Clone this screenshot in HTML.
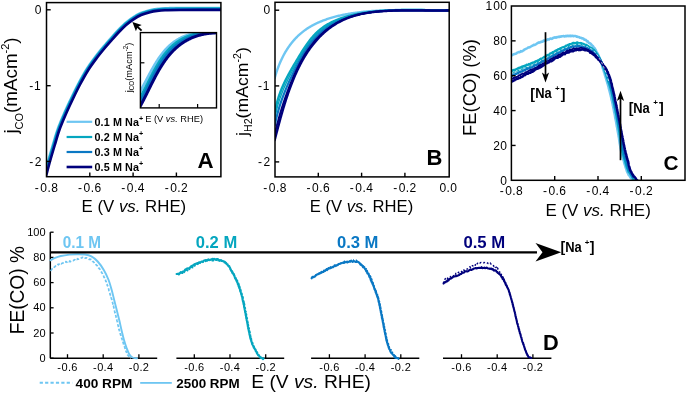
<!DOCTYPE html>
<html><head><meta charset="utf-8"><style>
html,body{margin:0;padding:0;background:#fff;width:687px;height:393px;overflow:hidden}
svg{display:block;font-family:"Liberation Sans",sans-serif;will-change:transform}
</style></head><body>
<svg width="687" height="393" viewBox="0 0 687 393">
<rect width="687" height="393" fill="#fff"/>
<clipPath id="cA"><rect x="46.5" y="2.6" width="174.4" height="174.1"/></clipPath>
<g clip-path="url(#cA)">
<path d="M44.27,174.98 L44.50,174.12 L44.79,173.03 L45.14,171.74 L45.53,170.28 L45.95,168.71 L46.39,167.06 L46.85,165.37 L47.31,163.68 L47.76,162.02 L48.20,160.45 L48.61,158.96 L49.03,157.49 L49.45,156.02 L49.88,154.57 L50.30,153.11 L50.73,151.66 L51.16,150.22 L51.59,148.77 L52.02,147.32 L52.45,145.88 L52.88,144.43 L53.31,142.98 L53.73,141.54 L54.16,140.09 L54.58,138.63 L55.00,137.18 L55.44,135.71 L55.89,134.25 L56.35,132.78 L56.84,131.30 L57.34,129.82 L57.86,128.38 L58.39,126.95 L58.94,125.53 L59.50,124.10 L60.07,122.68 L60.65,121.27 L61.24,119.85 L61.84,118.44 L62.45,117.02 L63.06,115.61 L63.67,114.20 L64.26,112.83 L64.87,111.46 L65.49,110.09 L66.11,108.72 L66.74,107.35 L67.37,105.98 L68.01,104.61 L68.65,103.24 L69.30,101.87 L69.94,100.51 L70.59,99.14 L71.24,97.78 L71.90,96.41 L72.55,95.04 L73.21,93.68 L73.87,92.31 L74.54,90.94 L75.22,89.56 L75.90,88.19 L76.60,86.82 L77.31,85.44 L78.03,84.06 L78.75,82.72 L79.47,81.37 L80.21,80.00 L80.97,78.62 L81.73,77.25 L82.49,75.88 L83.27,74.52 L84.04,73.18 L84.81,71.87 L85.58,70.59 L86.35,69.34 L87.21,67.99 L88.12,66.61 L89.03,65.26 L89.95,63.94 L90.86,62.66 L91.76,61.42 L92.65,60.21 L93.52,59.04 L94.37,57.90 L95.20,56.80 L96.21,55.46 L97.18,54.21 L98.12,53.02 L99.04,51.87 L99.96,50.74 L100.88,49.63 L101.82,48.49 L102.80,47.32 L103.81,46.12 L104.85,44.91 L105.90,43.70 L106.95,42.49 L107.99,41.31 L109.00,40.16 L109.98,39.04 L111.01,37.87 L112.02,36.70 L113.01,35.57 L113.99,34.46 L114.97,33.36 L115.99,32.25 L117.05,31.12 L118.10,30.03 L119.18,28.91 L120.28,27.78 L121.41,26.66 L122.53,25.57 L123.66,24.51 L124.78,23.50 L126.05,22.40 L127.32,21.36 L128.58,20.36 L129.84,19.42 L131.11,18.51 L132.39,17.64 L133.73,16.76 L135.07,15.91 L136.44,15.10 L137.84,14.34 L139.30,13.62 L140.81,12.95 L142.35,12.36 L143.94,11.83 L145.54,11.34 L147.10,10.90 L148.58,10.50 L150.08,10.12 L151.69,9.75 L153.20,9.45 L154.68,9.21 L156.20,8.99 L157.65,8.80 L158.96,8.63 L160.31,8.49 L161.81,8.37 L163.56,8.26 L165.29,8.19 L166.37,8.14 L167.41,8.11 L168.47,8.08 L169.59,8.05 L170.84,8.03 L172.27,8.01 L173.94,7.99 L175.90,7.97 L178.22,7.96 L180.34,7.95 L181.46,7.94 L182.70,7.94 L184.04,7.93 L185.47,7.93 L186.98,7.93 L188.56,7.92 L190.21,7.92 L191.91,7.92 L193.65,7.92 L195.42,7.91 L197.21,7.91 L199.02,7.91 L200.83,7.91 L202.64,7.91 L204.43,7.91 L206.19,7.91 L207.91,7.91 L209.59,7.91 L211.21,7.90 L212.77,7.90 L214.25,7.90 L215.65,7.90 L216.95,7.90 L218.14,7.90 L219.22,7.90 L220.18,7.90 L221.00,7.90 L221.00,7.90" fill="none" stroke="#6ec6f2" stroke-width="2.40" stroke-linejoin="round" stroke-linecap="round"/>
<path d="M44.85,175.14 L45.08,174.28 L45.37,173.18 L45.72,171.89 L46.11,170.44 L46.53,168.87 L46.97,167.22 L47.43,165.53 L47.89,163.83 L48.34,162.18 L48.78,160.61 L49.19,159.13 L49.61,157.66 L50.03,156.19 L50.45,154.73 L50.88,153.28 L51.30,151.83 L51.73,150.39 L52.16,148.94 L52.59,147.49 L53.02,146.05 L53.46,144.60 L53.89,143.15 L54.31,141.71 L54.73,140.26 L55.15,138.80 L55.58,137.35 L56.01,135.89 L56.46,134.42 L56.92,132.96 L57.40,131.49 L57.91,130.02 L58.42,128.58 L58.95,127.16 L59.50,125.74 L60.05,124.33 L60.63,122.91 L61.21,121.49 L61.80,120.08 L62.40,118.67 L63.00,117.26 L63.61,115.85 L64.22,114.44 L64.81,113.07 L65.42,111.70 L66.03,110.33 L66.66,108.96 L67.28,107.60 L67.91,106.23 L68.55,104.86 L69.19,103.49 L69.84,102.13 L70.49,100.76 L71.14,99.40 L71.79,98.03 L72.44,96.67 L73.09,95.30 L73.75,93.94 L74.41,92.57 L75.08,91.20 L75.75,89.83 L76.44,88.46 L77.13,87.09 L77.84,85.72 L78.56,84.35 L79.27,83.01 L80.00,81.65 L80.74,80.28 L81.49,78.91 L82.25,77.54 L83.02,76.17 L83.79,74.82 L84.56,73.49 L85.33,72.18 L86.10,70.90 L86.86,69.66 L87.71,68.32 L88.62,66.94 L89.53,65.60 L90.44,64.29 L91.35,63.01 L92.25,61.78 L93.13,60.57 L94.00,59.40 L94.85,58.26 L95.68,57.16 L96.69,55.83 L97.65,54.58 L98.59,53.39 L99.51,52.24 L100.42,51.12 L101.34,50.01 L102.28,48.88 L103.26,47.71 L104.27,46.51 L105.30,45.30 L106.35,44.09 L107.40,42.89 L108.44,41.70 L109.45,40.55 L110.43,39.44 L111.46,38.27 L112.48,37.10 L113.46,35.97 L114.44,34.86 L115.42,33.76 L116.43,32.66 L117.48,31.54 L118.53,30.44 L119.61,29.33 L120.71,28.21 L121.83,27.09 L122.95,26.00 L124.07,24.95 L125.17,23.95 L126.44,22.86 L127.70,21.82 L128.95,20.84 L130.20,19.90 L131.46,19.00 L132.72,18.14 L134.05,17.26 L135.38,16.42 L136.73,15.63 L138.12,14.87 L139.55,14.16 L141.03,13.51 L142.56,12.93 L144.13,12.40 L145.71,11.92 L147.26,11.48 L148.73,11.08 L150.22,10.70 L151.82,10.33 L153.31,10.04 L154.77,9.80 L156.28,9.58 L157.73,9.39 L159.03,9.23 L160.37,9.09 L161.85,8.97 L163.59,8.86 L165.32,8.79 L166.40,8.74 L167.43,8.71 L168.48,8.68 L169.60,8.65 L170.85,8.63 L172.27,8.61 L173.94,8.59 L175.90,8.57 L178.22,8.56 L180.34,8.55 L181.47,8.54 L182.70,8.54 L184.04,8.53 L185.47,8.53 L186.98,8.53 L188.57,8.52 L190.21,8.52 L191.91,8.52 L193.65,8.52 L195.42,8.51 L197.21,8.51 L199.02,8.51 L200.83,8.51 L202.64,8.51 L204.43,8.51 L206.19,8.51 L207.91,8.51 L209.59,8.51 L211.21,8.50 L212.77,8.50 L214.25,8.50 L215.65,8.50 L216.95,8.50 L218.14,8.50 L219.22,8.50 L220.18,8.50 L221.00,8.50 L221.00,8.50" fill="none" stroke="#05a6bf" stroke-width="2.40" stroke-linejoin="round" stroke-linecap="round"/>
<path d="M45.52,175.32 L45.76,174.46 L46.05,173.37 L46.39,172.07 L46.78,170.62 L47.20,169.05 L47.65,167.40 L48.10,165.71 L48.56,164.02 L49.01,162.37 L49.45,160.80 L49.87,159.32 L50.28,157.85 L50.70,156.39 L51.13,154.93 L51.55,153.48 L51.97,152.03 L52.40,150.58 L52.83,149.14 L53.26,147.70 L53.69,146.25 L54.13,144.80 L54.56,143.35 L54.98,141.90 L55.40,140.45 L55.83,139.00 L56.25,137.54 L56.68,136.09 L57.13,134.63 L57.59,133.17 L58.07,131.71 L58.57,130.25 L59.08,128.82 L59.61,127.41 L60.15,126.00 L60.70,124.58 L61.27,123.17 L61.85,121.76 L62.44,120.35 L63.04,118.94 L63.64,117.54 L64.25,116.13 L64.86,114.72 L65.45,113.35 L66.06,111.99 L66.67,110.62 L67.29,109.26 L67.92,107.89 L68.55,106.52 L69.19,105.16 L69.83,103.79 L70.47,102.43 L71.12,101.06 L71.77,99.70 L72.42,98.34 L73.07,96.97 L73.72,95.61 L74.38,94.24 L75.04,92.88 L75.71,91.51 L76.38,90.14 L77.06,88.78 L77.76,87.41 L78.46,86.04 L79.18,84.67 L79.89,83.34 L80.62,81.98 L81.36,80.62 L82.11,79.25 L82.86,77.88 L83.63,76.52 L84.39,75.17 L85.16,73.84 L85.93,72.54 L86.70,71.26 L87.46,70.03 L88.30,68.70 L89.20,67.33 L90.10,65.99 L91.01,64.69 L91.91,63.42 L92.81,62.19 L93.70,60.99 L94.57,59.82 L95.41,58.68 L96.24,57.58 L97.24,56.25 L98.20,55.01 L99.14,53.83 L100.05,52.69 L100.96,51.57 L101.88,50.45 L102.82,49.32 L103.79,48.16 L104.80,46.96 L105.83,45.76 L106.88,44.55 L107.93,43.35 L108.96,42.17 L109.98,41.01 L110.96,39.90 L111.98,38.73 L113.00,37.56 L113.99,36.43 L114.96,35.33 L115.94,34.23 L116.94,33.13 L117.99,32.02 L119.04,30.93 L120.11,29.82 L121.21,28.70 L122.32,27.59 L123.43,26.51 L124.54,25.46 L125.64,24.47 L126.89,23.39 L128.13,22.37 L129.37,21.40 L130.61,20.47 L131.86,19.57 L133.11,18.72 L134.43,17.85 L135.75,17.02 L137.08,16.23 L138.44,15.49 L139.85,14.79 L141.30,14.16 L142.79,13.59 L144.34,13.07 L145.91,12.59 L147.44,12.15 L148.91,11.76 L150.39,11.38 L151.96,11.02 L153.43,10.73 L154.88,10.49 L156.38,10.28 L157.81,10.09 L159.11,9.93 L160.43,9.79 L161.90,9.67 L163.62,9.56 L165.35,9.49 L166.42,9.44 L167.45,9.41 L168.50,9.38 L169.62,9.35 L170.86,9.33 L172.28,9.31 L173.95,9.29 L175.91,9.27 L178.23,9.26 L180.34,9.25 L181.47,9.24 L182.71,9.24 L184.04,9.23 L185.47,9.23 L186.98,9.23 L188.57,9.22 L190.21,9.22 L191.91,9.22 L193.65,9.22 L195.42,9.21 L197.22,9.21 L199.02,9.21 L200.83,9.21 L202.64,9.21 L204.43,9.21 L206.19,9.21 L207.91,9.21 L209.59,9.21 L211.21,9.20 L212.77,9.20 L214.25,9.20 L215.65,9.20 L216.95,9.20 L218.14,9.20 L219.22,9.20 L220.18,9.20 L221.00,9.20 L221.00,9.20" fill="none" stroke="#0a78c4" stroke-width="2.40" stroke-linejoin="round" stroke-linecap="round"/>
<path d="M46.20,175.50 C46.90,172.92 48.97,165.08 50.40,160.00 C51.83,154.92 53.30,150.00 54.80,145.00 C56.30,140.00 57.62,135.00 59.40,130.00 C61.18,125.00 63.33,120.00 65.50,115.00 C67.67,110.00 70.02,105.00 72.40,100.00 C74.78,95.00 77.15,90.00 79.80,85.00 C82.45,80.00 85.47,74.50 88.30,70.00 C91.13,65.50 94.18,61.50 96.80,58.00 C99.42,54.50 101.50,52.00 104.00,49.00 C106.50,46.00 109.38,42.75 111.80,40.00 C114.22,37.25 116.12,35.00 118.50,32.50 C120.88,30.00 123.60,27.20 126.10,25.00 C128.60,22.80 131.00,20.97 133.50,19.30 C136.00,17.63 138.35,16.18 141.10,15.00 C143.85,13.82 147.35,12.88 150.00,12.20 C152.65,11.52 154.50,11.23 157.00,10.90 C159.50,10.57 161.17,10.36 165.00,10.20 C168.83,10.04 170.67,10.00 180.00,9.95 C189.33,9.90 214.17,9.91 221.00,9.90" fill="none" stroke="#00007c" stroke-width="2.60" stroke-linejoin="round" stroke-linecap="round"/>
</g>
<rect x="46.5" y="2.6" width="174.4" height="174.1" fill="none" stroke="#000" stroke-width="1.5"/>
<line x1="46.50" y1="9.80" x2="50.70" y2="9.80" stroke="#000" stroke-width="1.40"/>
<line x1="46.50" y1="85.70" x2="50.70" y2="85.70" stroke="#000" stroke-width="1.40"/>
<line x1="46.50" y1="161.40" x2="50.70" y2="161.40" stroke="#000" stroke-width="1.40"/>
<line x1="89.80" y1="176.70" x2="89.80" y2="172.50" stroke="#000" stroke-width="1.40"/>
<line x1="133.10" y1="176.70" x2="133.10" y2="172.50" stroke="#000" stroke-width="1.40"/>
<line x1="176.40" y1="176.70" x2="176.40" y2="172.50" stroke="#000" stroke-width="1.40"/>
<text x="34.73" y="14.0" font-size="12.0" fill="#000">0</text>
<text x="29.23 33.93" y="89.9" font-size="12.0" fill="#000">-1</text>
<text x="29.23 34.73" y="165.6" font-size="12.0" fill="#000">-2</text>
<text x="34.76 40.25 47.38 51.16" y="191.6" font-size="12.0" fill="#000">-0.8</text>
<text x="78.06 83.55 90.68 94.46" y="191.6" font-size="12.0" fill="#000">-0.6</text>
<text x="121.27 126.77 133.89 137.67" y="191.6" font-size="12.0" fill="#000">-0.4</text>
<text x="164.70 170.19 177.32 181.10" y="191.6" font-size="12.0" fill="#000">-0.2</text>
<text x="81.6" y="211.9" font-size="15.8" text-anchor="start" fill="#000" textLength="104.6" lengthAdjust="spacingAndGlyphs">E (V <tspan font-style="italic">vs.</tspan> RHE)</text>
<text transform="translate(16.8,133.6) rotate(-90)" font-size="18" fill="#000" textLength="96.2" lengthAdjust="spacingAndGlyphs">j<tspan font-size="10.5" dy="6.6">CO</tspan><tspan dy="-6.6">(mAcm</tspan><tspan font-size="10.5" dy="-8.2">-2</tspan><tspan dy="8.2">)</tspan></text>
<line x1="66.60" y1="121.80" x2="92.20" y2="121.80" stroke="#6ec6f2" stroke-width="2.20"/>
<text x="94.5" y="125.7" font-size="10.8" font-weight="bold" fill="#000" letter-spacing="0.1">0.1 M Na<tspan font-size="7.2" dy="-4.8">+</tspan></text>
<line x1="66.60" y1="137.00" x2="92.20" y2="137.00" stroke="#05a6bf" stroke-width="2.20"/>
<text x="94.5" y="140.9" font-size="10.8" font-weight="bold" fill="#000" letter-spacing="0.1">0.2 M Na<tspan font-size="7.2" dy="-4.8">+</tspan></text>
<line x1="66.60" y1="152.00" x2="92.20" y2="152.00" stroke="#0a78c4" stroke-width="2.20"/>
<text x="94.5" y="155.9" font-size="10.8" font-weight="bold" fill="#000" letter-spacing="0.1">0.3 M Na<tspan font-size="7.2" dy="-4.8">+</tspan></text>
<line x1="66.60" y1="167.00" x2="92.20" y2="167.00" stroke="#00007c" stroke-width="2.60"/>
<text x="94.5" y="170.9" font-size="10.8" font-weight="bold" fill="#000" letter-spacing="0.1">0.5 M Na<tspan font-size="7.2" dy="-4.8">+</tspan></text>
<text x="197.5" y="167.6" font-size="22.3" text-anchor="start" font-weight="bold" fill="#000">A</text>
<clipPath id="cI"><rect x="140.4" y="32.6" width="76.1" height="75.3"/></clipPath>
<g clip-path="url(#cI)">
<path d="M138.84,93.84 L139.16,93.29 L139.49,92.74 L139.81,92.19 L140.13,91.64 L140.45,91.09 L140.77,90.53 L141.09,89.98 L141.40,89.42 L141.71,88.86 L142.03,88.30 L142.34,87.73 L142.65,87.17 L142.95,86.61 L143.26,86.04 L143.57,85.47 L143.87,84.91 L144.18,84.34 L144.48,83.77 L144.79,83.20 L145.09,82.63 L145.39,82.06 L145.69,81.49 L145.99,80.92 L146.30,80.34 L146.60,79.77 L146.90,79.20 L147.20,78.63 L147.50,78.06 L147.80,77.49 L148.10,76.91 L148.40,76.34 L148.71,75.77 L149.01,75.20 L149.31,74.63 L149.61,74.06 L149.92,73.49 L150.22,72.92 L150.53,72.36 L150.84,71.79 L151.14,71.23 L151.45,70.66 L151.76,70.10 L152.07,69.54 L152.39,68.97 L152.70,68.42 L153.01,67.86 L153.33,67.30 L153.65,66.75 L153.97,66.19 L154.29,65.64 L154.61,65.09 L154.94,64.54 L155.26,64.00 L155.59,63.45 L155.92,62.91 L156.26,62.37 L156.59,61.83 L156.93,61.30 L157.27,60.77 L157.61,60.24 L157.96,59.71 L158.31,59.18 L158.66,58.66 L159.01,58.14 L159.37,57.63 L159.73,57.11 L160.09,56.60 L160.45,56.09 L160.82,55.59 L161.20,55.09 L161.57,54.59 L161.95,54.10 L162.33,53.61 L162.72,53.12 L163.11,52.63 L163.50,52.15 L163.90,51.68 L164.30,51.21 L164.70,50.74 L165.11,50.27 L165.52,49.81 L165.94,49.36 L166.36,48.90 L166.79,48.46 L167.22,48.01 L167.65,47.58 L168.09,47.14 L168.53,46.71 L168.98,46.29 L169.43,45.87 L169.89,45.45 L170.35,45.04 L170.82,44.64 L171.29,44.24 L171.77,43.84 L172.25,43.45 L172.74,43.07 L173.24,42.69 L173.74,42.31 L174.24,41.95 L174.75,41.58 L175.27,41.23 L175.79,40.88 L176.32,40.53 L176.85,40.19 L177.39,39.86 L177.94,39.53 L178.49,39.21 L179.05,38.90 L179.61,38.59 L180.18,38.28 L180.76,37.99 L181.34,37.70 L181.93,37.42 L182.53,37.14 L183.14,36.87 L183.75,36.61 L184.36,36.36 L184.99,36.11 L185.62,35.87 L186.26,35.63 L186.91,35.40 L187.56,35.19 L188.22,34.97 L188.89,34.77 L189.56,34.57 L190.25,34.38 L190.94,34.20 L191.64,34.03 L192.34,33.86 L193.06,33.70 L193.78,33.55 L194.51,33.41 L195.25,33.27 L196.00,33.15 L196.75,33.03 L197.52,32.92 L198.29,32.82 L199.07,32.73 L199.86,32.64 L200.66,32.57 L201.46,32.50 L202.28,32.44 L203.10,32.40 L203.93,32.36 L204.78,32.33 L205.63,32.30 L206.49,32.29 L207.36,32.29 L208.24,32.29 L209.13,32.31 L210.03,32.34 L210.93,32.37 L211.85,32.42 L212.78,32.47 L213.71,32.53 L214.66,32.61 L215.62,32.69 L216.59,32.79" fill="none" stroke="#6ec6f2" stroke-width="3.00" stroke-linejoin="round" stroke-linecap="round"/>
<path d="M138.76,100.26 L139.10,99.69 L139.44,99.11 L139.78,98.53 L140.11,97.95 L140.44,97.37 L140.77,96.79 L141.10,96.20 L141.42,95.61 L141.74,95.02 L142.07,94.43 L142.39,93.83 L142.71,93.24 L143.02,92.64 L143.34,92.05 L143.65,91.45 L143.97,90.85 L144.28,90.25 L144.59,89.64 L144.90,89.04 L145.21,88.44 L145.52,87.83 L145.83,87.23 L146.14,86.62 L146.45,86.01 L146.75,85.41 L147.06,84.80 L147.37,84.19 L147.67,83.58 L147.98,82.98 L148.28,82.37 L148.59,81.76 L148.90,81.15 L149.20,80.55 L149.51,79.94 L149.82,79.33 L150.12,78.72 L150.43,78.12 L150.74,77.51 L151.05,76.91 L151.36,76.30 L151.67,75.70 L151.98,75.10 L152.29,74.50 L152.61,73.90 L152.92,73.30 L153.24,72.70 L153.55,72.10 L153.87,71.51 L154.19,70.91 L154.51,70.32 L154.84,69.73 L155.16,69.14 L155.49,68.56 L155.82,67.97 L156.15,67.39 L156.48,66.81 L156.82,66.23 L157.15,65.65 L157.49,65.08 L157.83,64.50 L158.18,63.93 L158.52,63.36 L158.87,62.80 L159.22,62.24 L159.58,61.68 L159.93,61.12 L160.29,60.57 L160.66,60.02 L161.02,59.47 L161.39,58.92 L161.76,58.38 L162.14,57.84 L162.52,57.31 L162.90,56.78 L163.29,56.25 L163.68,55.72 L164.07,55.20 L164.47,54.69 L164.87,54.17 L165.27,53.66 L165.68,53.16 L166.09,52.66 L166.51,52.16 L166.93,51.67 L167.35,51.18 L167.78,50.69 L168.22,50.21 L168.66,49.74 L169.10,49.27 L169.55,48.80 L170.00,48.34 L170.46,47.89 L170.92,47.43 L171.39,46.99 L171.86,46.55 L172.34,46.11 L172.82,45.68 L173.31,45.26 L173.81,44.84 L174.30,44.42 L174.81,44.01 L175.32,43.61 L175.84,43.21 L176.36,42.82 L176.89,42.43 L177.42,42.05 L177.96,41.68 L178.51,41.31 L179.06,40.95 L179.62,40.60 L180.18,40.25 L180.75,39.90 L181.33,39.57 L181.92,39.24 L182.51,38.92 L183.11,38.60 L183.71,38.29 L184.32,37.99 L184.94,37.70 L185.57,37.41 L186.20,37.13 L186.84,36.85 L187.49,36.59 L188.14,36.33 L188.81,36.08 L189.48,35.83 L190.15,35.60 L190.84,35.37 L191.53,35.15 L192.23,34.93 L192.94,34.73 L193.66,34.53 L194.38,34.34 L195.12,34.16 L195.86,33.99 L196.61,33.83 L197.37,33.67 L198.13,33.52 L198.91,33.39 L199.69,33.26 L200.49,33.13 L201.29,33.02 L202.10,32.92 L202.92,32.82 L203.75,32.74 L204.58,32.66 L205.43,32.60 L206.29,32.54 L207.15,32.49 L208.03,32.45 L208.91,32.42 L209.80,32.40 L210.71,32.39 L211.62,32.39 L212.55,32.40 L213.48,32.42 L214.42,32.45 L215.38,32.49 L216.34,32.54" fill="none" stroke="#05a6bf" stroke-width="3.00" stroke-linejoin="round" stroke-linecap="round"/>
<path d="M138.93,104.43 L139.26,103.83 L139.60,103.22 L139.93,102.61 L140.26,102.00 L140.59,101.39 L140.92,100.78 L141.24,100.17 L141.56,99.55 L141.89,98.94 L142.21,98.32 L142.53,97.70 L142.85,97.08 L143.17,96.46 L143.48,95.84 L143.80,95.21 L144.11,94.59 L144.43,93.97 L144.74,93.34 L145.06,92.71 L145.37,92.09 L145.68,91.46 L145.99,90.83 L146.30,90.21 L146.61,89.58 L146.92,88.95 L147.23,88.32 L147.55,87.69 L147.86,87.06 L148.17,86.44 L148.48,85.81 L148.79,85.18 L149.10,84.55 L149.41,83.93 L149.72,83.30 L150.04,82.67 L150.35,82.05 L150.66,81.42 L150.98,80.80 L151.29,80.17 L151.61,79.55 L151.93,78.93 L152.25,78.31 L152.57,77.69 L152.89,77.07 L153.21,76.45 L153.53,75.84 L153.86,75.22 L154.18,74.61 L154.51,74.00 L154.84,73.39 L155.17,72.78 L155.50,72.18 L155.84,71.57 L156.17,70.97 L156.51,70.37 L156.85,69.77 L157.20,69.17 L157.54,68.58 L157.89,67.99 L158.24,67.40 L158.59,66.81 L158.94,66.22 L159.30,65.64 L159.66,65.06 L160.02,64.49 L160.39,63.91 L160.75,63.34 L161.12,62.77 L161.50,62.21 L161.87,61.64 L162.25,61.08 L162.64,60.53 L163.02,59.98 L163.41,59.43 L163.80,58.88 L164.20,58.34 L164.60,57.80 L165.00,57.26 L165.41,56.73 L165.82,56.20 L166.24,55.68 L166.66,55.16 L167.08,54.64 L167.51,54.13 L167.94,53.62 L168.37,53.12 L168.81,52.62 L169.25,52.12 L169.70,51.63 L170.16,51.15 L170.61,50.66 L171.07,50.19 L171.54,49.71 L172.01,49.25 L172.49,48.78 L172.97,48.33 L173.46,47.87 L173.95,47.43 L174.44,46.98 L174.95,46.55 L175.45,46.11 L175.96,45.69 L176.48,45.27 L177.01,44.85 L177.53,44.44 L178.07,44.04 L178.61,43.64 L179.15,43.24 L179.71,42.86 L180.26,42.47 L180.83,42.10 L181.40,41.73 L181.97,41.37 L182.56,41.01 L183.14,40.66 L183.74,40.32 L184.34,39.98 L184.95,39.65 L185.56,39.32 L186.18,39.00 L186.81,38.69 L187.45,38.39 L188.09,38.09 L188.74,37.80 L189.39,37.52 L190.05,37.24 L190.72,36.97 L191.40,36.71 L192.09,36.46 L192.78,36.21 L193.48,35.97 L194.18,35.74 L194.90,35.51 L195.62,35.29 L196.35,35.08 L197.09,34.88 L197.83,34.69 L198.58,34.50 L199.35,34.33 L200.12,34.16 L200.89,34.00 L201.68,33.84 L202.47,33.70 L203.28,33.56 L204.09,33.43 L204.91,33.31 L205.73,33.20 L206.57,33.10 L207.42,33.01 L208.27,32.92 L209.14,32.85 L210.01,32.78 L210.89,32.72 L211.78,32.67 L212.68,32.64 L213.59,32.61 L214.51,32.58 L215.43,32.57 L216.37,32.57" fill="none" stroke="#0a78c4" stroke-width="3.00" stroke-linejoin="round" stroke-linecap="round"/>
<path d="M138.96,108.46 L139.31,107.85 L139.66,107.23 L140.01,106.62 L140.35,106.00 L140.69,105.38 L141.03,104.75 L141.37,104.13 L141.70,103.50 L142.04,102.87 L142.37,102.24 L142.70,101.61 L143.03,100.98 L143.36,100.35 L143.69,99.71 L144.02,99.08 L144.34,98.44 L144.67,97.80 L144.99,97.16 L145.32,96.52 L145.64,95.88 L145.96,95.24 L146.28,94.60 L146.60,93.96 L146.92,93.31 L147.24,92.67 L147.56,92.03 L147.88,91.38 L148.20,90.74 L148.52,90.09 L148.84,89.45 L149.15,88.80 L149.47,88.16 L149.79,87.52 L150.11,86.87 L150.43,86.23 L150.75,85.59 L151.07,84.94 L151.39,84.30 L151.71,83.66 L152.04,83.02 L152.36,82.38 L152.68,81.74 L153.01,81.10 L153.33,80.47 L153.66,79.83 L153.99,79.20 L154.32,78.56 L154.65,77.93 L154.98,77.30 L155.31,76.67 L155.65,76.04 L155.99,75.41 L156.32,74.79 L156.66,74.17 L157.00,73.55 L157.35,72.93 L157.69,72.31 L158.04,71.69 L158.39,71.08 L158.74,70.47 L159.10,69.86 L159.45,69.25 L159.81,68.65 L160.17,68.05 L160.53,67.45 L160.90,66.85 L161.27,66.26 L161.64,65.66 L162.01,65.08 L162.39,64.49 L162.77,63.91 L163.16,63.33 L163.54,62.75 L163.93,62.18 L164.32,61.61 L164.72,61.04 L165.12,60.48 L165.52,59.92 L165.93,59.36 L166.34,58.81 L166.75,58.26 L167.17,57.71 L167.59,57.17 L168.02,56.63 L168.45,56.10 L168.88,55.57 L169.32,55.04 L169.76,54.52 L170.20,54.01 L170.65,53.49 L171.11,52.99 L171.57,52.48 L172.03,51.98 L172.50,51.49 L172.97,51.00 L173.45,50.51 L173.93,50.03 L174.42,49.56 L174.91,49.09 L175.41,48.62 L175.91,48.16 L176.42,47.71 L176.94,47.26 L177.46,46.81 L177.98,46.38 L178.51,45.94 L179.04,45.52 L179.59,45.09 L180.13,44.68 L180.69,44.27 L181.24,43.86 L181.81,43.46 L182.38,43.07 L182.95,42.69 L183.54,42.30 L184.13,41.93 L184.72,41.56 L185.32,41.20 L185.93,40.85 L186.55,40.50 L187.17,40.16 L187.80,39.82 L188.43,39.49 L189.07,39.17 L189.72,38.86 L190.38,38.55 L191.04,38.25 L191.71,37.96 L192.38,37.67 L193.07,37.39 L193.76,37.12 L194.46,36.86 L195.17,36.60 L195.88,36.35 L196.60,36.11 L197.33,35.88 L198.07,35.65 L198.81,35.43 L199.56,35.22 L200.33,35.02 L201.09,34.83 L201.87,34.64 L202.66,34.46 L203.45,34.29 L204.25,34.13 L205.06,33.98 L205.88,33.84 L206.71,33.70 L207.54,33.57 L208.39,33.46 L209.24,33.35 L210.11,33.25 L210.98,33.15 L211.86,33.07 L212.75,33.00 L213.65,32.93 L214.55,32.88 L215.47,32.83 L216.40,32.80" fill="none" stroke="#00007c" stroke-width="3.00" stroke-linejoin="round" stroke-linecap="round"/>
</g>
<rect x="140.4" y="32.6" width="76.1" height="75.3" fill="none" stroke="#000" stroke-width="1.4"/>
<line x1="140.40" y1="62.80" x2="144.40" y2="62.80" stroke="#000" stroke-width="1.20"/>
<line x1="159.20" y1="107.90" x2="159.20" y2="103.90" stroke="#000" stroke-width="1.20"/>
<line x1="197.60" y1="107.90" x2="197.60" y2="103.90" stroke="#000" stroke-width="1.20"/>
<text x="145.2" y="121.8" font-size="8.5" text-anchor="start" fill="#000" textLength="57.8" lengthAdjust="spacingAndGlyphs">E (V <tspan font-style="italic">vs.</tspan> RHE)</text>
<text transform="translate(131.8,92.3) rotate(-90)" font-size="9.3" fill="#000">j<tspan font-size="6.3" dy="1.8">CO</tspan><tspan dy="-1.8">(mAcm</tspan><tspan font-size="6.3" dy="-4">-2</tspan><tspan dy="4">)</tspan></text>
<path d="M132.4,22.0 L141.7,25.0 L137.6,26.9 L135.9,31.3 Z" fill="#000"/>
<line x1="136.80" y1="26.20" x2="141.60" y2="30.60" stroke="#000" stroke-width="1.90"/>
<clipPath id="cB"><rect x="275.0" y="2.3" width="174.2" height="174.6"/></clipPath>
<g clip-path="url(#cB)">
<path d="M274.67,78.17 L274.91,77.30 L275.16,76.44 L275.41,75.58 L275.67,74.73 L275.94,73.88 L276.20,73.04 L276.48,72.20 L276.75,71.37 L277.03,70.54 L277.32,69.72 L277.61,68.90 L277.91,68.08 L278.21,67.27 L278.52,66.47 L278.83,65.67 L279.14,64.88 L279.46,64.09 L279.79,63.30 L280.12,62.52 L280.46,61.75 L280.80,60.98 L281.15,60.22 L281.50,59.46 L281.86,58.71 L282.22,57.96 L282.59,57.22 L282.96,56.48 L283.34,55.75 L283.73,55.02 L284.12,54.30 L284.51,53.59 L284.91,52.88 L285.32,52.17 L285.73,51.48 L286.15,50.78 L286.57,50.10 L287.00,49.42 L287.44,48.74 L287.88,48.07 L288.33,47.41 L288.78,46.75 L289.24,46.10 L289.70,45.45 L290.17,44.81 L290.65,44.18 L291.13,43.55 L291.62,42.93 L292.12,42.31 L292.62,41.70 L293.13,41.10 L293.64,40.50 L294.16,39.91 L294.68,39.33 L295.22,38.75 L295.76,38.18 L296.30,37.61 L296.85,37.05 L297.41,36.50 L297.97,35.95 L298.55,35.42 L299.12,34.88 L299.71,34.36 L300.30,33.84 L300.89,33.32 L301.50,32.82 L302.11,32.32 L302.73,31.82 L303.35,31.34 L303.98,30.86 L304.62,30.39 L305.27,29.92 L305.92,29.46 L306.58,29.01 L307.24,28.56 L307.91,28.13 L308.59,27.69 L309.28,27.27 L309.97,26.85 L310.67,26.44 L311.37,26.03 L312.09,25.64 L312.80,25.24 L313.53,24.86 L314.26,24.48 L315.00,24.10 L315.74,23.74 L316.49,23.38 L317.24,23.02 L318.01,22.67 L318.77,22.33 L319.55,21.99 L320.33,21.66 L321.11,21.34 L321.90,21.02 L322.70,20.70 L323.50,20.40 L324.31,20.09 L325.13,19.80 L325.95,19.51 L326.77,19.22 L327.60,18.94 L328.44,18.67 L329.28,18.40 L330.13,18.13 L330.98,17.88 L331.84,17.62 L332.70,17.37 L333.57,17.13 L334.44,16.89 L335.32,16.66 L336.20,16.43 L337.09,16.21 L337.98,15.99 L338.88,15.78 L339.78,15.57 L340.69,15.37 L341.60,15.17 L342.51,14.98 L343.44,14.79 L344.36,14.60 L345.29,14.42 L346.23,14.24 L347.16,14.07 L348.11,13.91 L349.05,13.74 L350.01,13.58 L350.96,13.43 L351.92,13.28 L352.89,13.13 L353.86,12.99 L354.83,12.85 L355.80,12.72 L356.78,12.59 L357.77,12.46 L358.76,12.34 L359.75,12.22 L360.74,12.10 L361.74,11.99 L362.74,11.88 L363.75,11.78 L364.76,11.68 L365.77,11.58 L366.79,11.49 L367.81,11.40 L368.83,11.31 L369.86,11.22 L370.89,11.14 L371.92,11.07 L372.96,10.99 L374.00,10.92 L375.04,10.85 L376.08,10.79 L377.13,10.72 L378.18,10.66 L379.24,10.61 L380.29,10.55 L381.35,10.50 L382.41,10.45 L383.48,10.41 L384.54,10.36 L385.61,10.32 L386.69,10.28 L387.76,10.25 L388.84,10.21 L389.92,10.18 L391.00,10.15 L392.08,10.13 L393.17,10.10 L394.26,10.08 L395.35,10.06 L396.44,10.04 L397.53,10.03 L398.63,10.01 L399.73,10.00 L400.83,9.99 L401.93,9.98 L403.03,9.97 L404.14,9.97 L405.24,9.96 L406.35,9.96 L407.46,9.96 L408.57,9.96 L409.69,9.96 L410.80,9.97 L411.91,9.97 L413.03,9.98 L414.15,9.99 L415.27,9.99 L416.39,10.00 L417.51,10.02 L418.63,10.03 L419.76,10.04 L420.88,10.06 L422.01,10.07 L423.13,10.09 L424.26,10.10 L425.39,10.12 L426.52,10.14 L427.65,10.16 L428.78,10.18 L429.91,10.20 L431.04,10.22 L432.17,10.24 L433.30,10.26 L434.43,10.28 L435.57,10.30 L436.70,10.33 L437.83,10.35 L438.97,10.37 L440.10,10.39 L441.23,10.42 L442.37,10.44 L443.50,10.46 L444.63,10.49 L445.77,10.51 L446.90,10.53 L448.03,10.55 L449.17,10.58 L450.30,10.60" fill="none" stroke="#6ec6f2" stroke-width="2.40" stroke-linejoin="round" stroke-linecap="round"/>
<path d="M274.84,113.04 L275.01,111.94 L275.20,110.86 L275.39,109.79 L275.60,108.72 L275.81,107.67 L276.04,106.62 L276.27,105.59 L276.51,104.56 L276.76,103.54 L277.02,102.53 L277.29,101.53 L277.57,100.54 L277.85,99.56 L278.15,98.58 L278.45,97.61 L278.76,96.65 L279.07,95.70 L279.40,94.75 L279.73,93.82 L280.06,92.88 L280.41,91.96 L280.76,91.04 L281.12,90.13 L281.48,89.23 L281.85,88.33 L282.23,87.43 L282.61,86.55 L283.00,85.67 L283.39,84.79 L283.79,83.92 L284.19,83.05 L284.60,82.19 L285.01,81.34 L285.43,80.48 L285.85,79.64 L286.28,78.79 L286.71,77.95 L287.14,77.12 L287.58,76.29 L288.02,75.46 L288.46,74.64 L288.91,73.81 L289.36,73.00 L289.81,72.18 L290.27,71.37 L290.73,70.56 L291.19,69.75 L291.65,68.94 L292.12,68.14 L292.58,67.33 L293.05,66.53 L293.52,65.73 L293.99,64.94 L294.46,64.14 L294.93,63.34 L295.41,62.55 L295.88,61.75 L296.35,60.96 L296.83,60.16 L297.30,59.37 L297.78,58.57 L298.25,57.78 L298.73,56.98 L299.20,56.19 L299.68,55.40 L300.16,54.61 L300.64,53.82 L301.12,53.03 L301.61,52.25 L302.09,51.47 L302.58,50.69 L303.08,49.91 L303.57,49.14 L304.07,48.37 L304.57,47.60 L305.08,46.84 L305.59,46.08 L306.11,45.33 L306.63,44.58 L307.15,43.83 L307.68,43.10 L308.22,42.36 L308.76,41.63 L309.31,40.91 L309.86,40.20 L310.42,39.49 L310.99,38.79 L311.56,38.09 L312.14,37.41 L312.73,36.73 L313.33,36.05 L313.93,35.39 L314.55,34.73 L315.17,34.09 L315.80,33.45 L316.44,32.82 L317.09,32.20 L317.75,31.59 L318.42,30.99 L319.10,30.40 L319.79,29.82 L320.49,29.25 L321.20,28.69 L321.92,28.15 L322.65,27.61 L323.39,27.08 L324.14,26.57 L324.91,26.06 L325.68,25.56 L326.46,25.08 L327.25,24.60 L328.06,24.13 L328.87,23.68 L329.69,23.23 L330.52,22.79 L331.36,22.36 L332.21,21.94 L333.07,21.53 L333.94,21.13 L334.82,20.74 L335.70,20.36 L336.60,19.99 L337.50,19.62 L338.41,19.26 L339.33,18.92 L340.26,18.58 L341.20,18.25 L342.15,17.92 L343.10,17.61 L344.06,17.30 L345.03,17.00 L346.01,16.71 L347.00,16.43 L347.99,16.15 L348.99,15.88 L350.00,15.62 L351.02,15.37 L352.04,15.12 L353.07,14.89 L354.11,14.65 L355.15,14.43 L356.20,14.21 L357.26,14.00 L358.33,13.80 L359.40,13.60 L360.48,13.41 L361.56,13.22 L362.65,13.05 L363.75,12.87 L364.85,12.71 L365.96,12.55 L367.07,12.39 L368.20,12.25 L369.32,12.10 L370.45,11.97 L371.59,11.84 L372.73,11.71 L373.88,11.59 L375.04,11.47 L376.20,11.36 L377.36,11.26 L378.53,11.16 L379.70,11.06 L380.88,10.97 L382.06,10.89 L383.25,10.81 L384.44,10.73 L385.64,10.66 L386.84,10.59 L388.05,10.53 L389.26,10.47 L390.47,10.41 L391.69,10.36 L392.91,10.31 L394.13,10.27 L395.36,10.23 L396.59,10.19 L397.83,10.16 L399.07,10.12 L400.31,10.10 L401.55,10.07 L402.80,10.05 L404.05,10.03 L405.31,10.02 L406.56,10.01 L407.82,10.00 L409.08,9.99 L410.35,9.98 L411.61,9.98 L412.88,9.98 L414.15,9.98 L415.43,9.99 L416.70,9.99 L417.98,10.00 L419.26,10.01 L420.54,10.02 L421.82,10.04 L423.10,10.05 L424.39,10.07 L425.67,10.08 L426.96,10.10 L428.25,10.12 L429.54,10.14 L430.83,10.16 L432.12,10.18 L433.41,10.21 L434.70,10.23 L435.99,10.25 L437.29,10.28 L438.58,10.30 L439.88,10.33 L441.17,10.35 L442.46,10.38 L443.76,10.40 L445.05,10.43 L446.34,10.45 L447.64,10.48 L448.93,10.50 L450.22,10.52" fill="none" stroke="#05a6bf" stroke-width="2.40" stroke-linejoin="round" stroke-linecap="round"/>
<path d="M274.80,118.50 L275.28,115.91 L275.81,113.33 L276.40,110.76 L277.03,108.20 L277.72,105.66 L278.46,103.13 L279.25,100.62 L280.09,98.12 L280.98,95.64 L281.91,93.18 L282.88,90.74 L283.90,88.31 L284.95,85.90 L286.04,83.51 L287.17,81.14 L288.32,78.78 L289.50,76.43 L290.70,74.09 L291.93,71.77 L293.17,69.45 L294.43,67.14 L295.69,64.84 L296.97,62.54 L298.25,60.25 L299.55,57.96 L300.87,55.68 L302.22,53.42 L303.60,51.18 L305.02,48.96 L306.48,46.78 L307.99,44.62 L309.55,42.51 L311.18,40.44 L312.87,38.42 L314.63,36.47 L316.46,34.59 L318.37,32.78 L320.34,31.06 L322.39,29.42 L324.51,27.87 L326.68,26.40 L328.91,25.02 L331.18,23.72 L333.50,22.50 L335.85,21.36 L338.24,20.29 L340.67,19.30 L343.12,18.37 L345.60,17.51 L348.10,16.72 L350.62,15.98 L353.16,15.31 L355.71,14.69 L358.28,14.12 L360.86,13.61 L363.45,13.14 L366.05,12.72 L368.65,12.35 L371.26,12.01 L373.88,11.71 L376.50,11.44 L379.12,11.20 L381.75,10.99 L384.38,10.81 L387.01,10.66 L389.64,10.52 L392.27,10.41 L394.90,10.31 L397.54,10.24 L400.17,10.18 L402.80,10.13 L405.44,10.10 L408.07,10.08 L410.71,10.07 L413.34,10.07 L415.97,10.08 L418.61,10.10 L421.24,10.12 L423.88,10.15 L426.51,10.19 L429.15,10.22 L431.78,10.26 L434.41,10.30 L437.05,10.34 L439.68,10.38 L442.32,10.42 L444.95,10.46 L447.59,10.49 L450.22,10.52" fill="none" stroke="#05a6bf" stroke-width="1.40" stroke-linejoin="round" stroke-linecap="round"/>
<path d="M274.74,125.32 L275.30,122.68 L275.88,120.06 L276.51,117.44 L277.17,114.82 L277.87,112.22 L278.61,109.63 L279.38,107.05 L280.19,104.48 L281.04,101.93 L281.92,99.39 L282.84,96.86 L283.79,94.35 L284.77,91.84 L285.78,89.36 L286.82,86.88 L287.88,84.42 L288.98,81.97 L290.09,79.53 L291.23,77.10 L292.39,74.68 L293.57,72.27 L294.77,69.86 L295.98,67.47 L297.21,65.07 L298.46,62.69 L299.74,60.33 L301.04,57.98 L302.39,55.65 L303.77,53.34 L305.20,51.06 L306.68,48.81 L308.21,46.60 L309.80,44.44 L311.45,42.31 L313.16,40.25 L314.95,38.24 L316.80,36.30 L318.72,34.44 L320.71,32.64 L322.76,30.93 L324.87,29.29 L327.04,27.73 L329.26,26.25 L331.53,24.84 L333.85,23.52 L336.21,22.27 L338.61,21.09 L341.04,19.99 L343.51,18.96 L346.02,18.01 L348.55,17.12 L351.10,16.31 L353.68,15.56 L356.28,14.88 L358.90,14.27 L361.53,13.71 L364.17,13.21 L366.83,12.77 L369.49,12.37 L372.16,12.02 L374.83,11.71 L377.51,11.44 L380.20,11.21 L382.88,11.00 L385.57,10.82 L388.26,10.67 L390.95,10.55 L393.64,10.45 L396.34,10.36 L399.03,10.30 L401.72,10.25 L404.42,10.21 L407.11,10.19 L409.81,10.18 L412.50,10.19 L415.19,10.19 L417.89,10.21 L420.58,10.23 L423.28,10.26 L425.97,10.29 L428.66,10.33 L431.36,10.36 L434.05,10.39 L436.75,10.43 L439.44,10.46 L442.13,10.48 L444.83,10.50 L447.52,10.51 L450.22,10.52" fill="none" stroke="#0a78c4" stroke-width="2.20" stroke-linejoin="round" stroke-linecap="round"/>
<path d="M274.67,134.32 L275.32,131.63 L275.98,128.94 L276.66,126.25 L277.35,123.56 L278.07,120.88 L278.80,118.21 L279.55,115.54 L280.33,112.88 L281.12,110.23 L281.94,107.58 L282.78,104.94 L283.64,102.31 L284.52,99.69 L285.43,97.07 L286.36,94.47 L287.31,91.87 L288.29,89.28 L289.29,86.70 L290.32,84.14 L291.37,81.58 L292.44,79.03 L293.55,76.49 L294.67,73.96 L295.83,71.45 L297.01,68.95 L298.24,66.46 L299.49,63.99 L300.79,61.54 L302.13,59.12 L303.51,56.72 L304.95,54.35 L306.43,52.01 L307.97,49.71 L309.57,47.45 L311.23,45.23 L312.95,43.07 L314.73,40.95 L316.57,38.90 L318.48,36.90 L320.45,34.97 L322.48,33.10 L324.57,31.31 L326.73,29.58 L328.93,27.93 L331.20,26.36 L333.52,24.87 L335.88,23.45 L338.30,22.12 L340.76,20.88 L343.27,19.71 L345.81,18.63 L348.39,17.63 L351.00,16.72 L353.64,15.89 L356.31,15.14 L358.99,14.46 L361.70,13.86 L364.42,13.33 L367.15,12.86 L369.89,12.44 L372.64,12.08 L375.39,11.76 L378.15,11.48 L380.91,11.25 L383.68,11.05 L386.45,10.88 L389.21,10.73 L391.99,10.62 L394.76,10.53 L397.53,10.45 L400.30,10.40 L403.07,10.36 L405.85,10.34 L408.62,10.33 L411.39,10.33 L414.17,10.34 L416.94,10.36 L419.71,10.38 L422.48,10.41 L425.26,10.44 L428.03,10.46 L430.80,10.49 L433.57,10.52 L436.35,10.54 L439.12,10.55 L441.89,10.56 L444.67,10.55 L447.44,10.54 L450.21,10.51" fill="none" stroke="#00007c" stroke-width="1.90" stroke-linejoin="round" stroke-linecap="round"/>
<path d="M274.63,140.33 L274.91,139.22 L275.20,138.11 L275.49,137.00 L275.77,135.90 L276.06,134.79 L276.35,133.68 L276.64,132.57 L276.93,131.47 L277.22,130.36 L277.51,129.26 L277.80,128.16 L278.09,127.06 L278.38,125.95 L278.68,124.85 L278.97,123.76 L279.27,122.66 L279.57,121.56 L279.87,120.47 L280.17,119.37 L280.47,118.28 L280.77,117.19 L281.08,116.10 L281.39,115.01 L281.70,113.93 L282.01,112.84 L282.32,111.76 L282.63,110.68 L282.95,109.60 L283.27,108.53 L283.59,107.45 L283.91,106.38 L284.24,105.31 L284.56,104.24 L284.89,103.18 L285.23,102.12 L285.56,101.06 L285.90,100.00 L286.24,98.95 L286.58,97.89 L286.93,96.85 L287.28,95.80 L287.63,94.76 L287.98,93.72 L288.34,92.68 L288.70,91.65 L289.06,90.62 L289.43,89.59 L289.80,88.56 L290.18,87.54 L290.55,86.53 L290.93,85.51 L291.32,84.50 L291.71,83.50 L292.10,82.50 L292.50,81.50 L292.90,80.50 L293.30,79.51 L293.71,78.52 L294.12,77.54 L294.53,76.56 L294.96,75.59 L295.38,74.62 L295.81,73.65 L296.24,72.69 L296.68,71.74 L297.12,70.78 L297.57,69.84 L298.02,68.89 L298.48,67.96 L298.94,67.02 L299.41,66.09 L299.88,65.17 L300.35,64.25 L300.83,63.34 L301.32,62.43 L301.81,61.53 L302.31,60.63 L302.81,59.74 L303.32,58.85 L303.83,57.97 L304.35,57.10 L304.88,56.23 L305.41,55.36 L305.94,54.50 L306.49,53.65 L307.03,52.81 L307.59,51.96 L308.15,51.13 L308.71,50.30 L309.29,49.48 L309.86,48.66 L310.45,47.85 L311.04,47.05 L311.64,46.25 L312.24,45.46 L312.85,44.68 L313.47,43.90 L314.09,43.13 L314.73,42.37 L315.36,41.61 L316.01,40.86 L316.66,40.12 L317.32,39.38 L317.98,38.65 L318.66,37.93 L319.34,37.22 L320.03,36.51 L320.72,35.81 L321.42,35.12 L322.14,34.44 L322.85,33.76 L323.58,33.10 L324.32,32.44 L325.06,31.78 L325.81,31.14 L326.57,30.51 L327.34,29.88 L328.12,29.26 L328.90,28.66 L329.70,28.06 L330.50,27.47 L331.32,26.89 L332.14,26.31 L332.97,25.75 L333.81,25.20 L334.66,24.65 L335.52,24.12 L336.39,23.59 L337.27,23.08 L338.16,22.57 L339.06,22.08 L339.97,21.59 L340.89,21.12 L341.82,20.66 L342.76,20.20 L343.71,19.76 L344.68,19.33 L345.65,18.91 L346.63,18.50 L347.63,18.10 L348.64,17.71 L349.65,17.33 L350.68,16.96 L351.72,16.61 L352.77,16.27 L353.84,15.94 L354.91,15.62 L356.00,15.31 L357.10,15.01 L358.21,14.73 L359.33,14.46 L360.46,14.20 L361.61,13.95 L362.76,13.71 L363.93,13.48 L365.11,13.26 L366.30,13.06 L367.49,12.86 L368.70,12.67 L369.92,12.49 L371.14,12.32 L372.38,12.16 L373.62,12.01 L374.87,11.87 L376.13,11.74 L377.40,11.61 L378.68,11.49 L379.96,11.38 L381.25,11.28 L382.55,11.18 L383.86,11.10 L385.17,11.01 L386.49,10.94 L387.82,10.87 L389.15,10.81 L390.49,10.75 L391.83,10.70 L393.18,10.65 L394.53,10.61 L395.89,10.57 L397.25,10.54 L398.62,10.52 L399.99,10.49 L401.37,10.47 L402.75,10.46 L404.13,10.45 L405.51,10.44 L406.90,10.43 L408.29,10.43 L409.69,10.43 L411.09,10.43 L412.49,10.44 L413.89,10.44 L415.29,10.45 L416.69,10.46 L418.10,10.47 L419.50,10.48 L420.91,10.50 L422.32,10.51 L423.72,10.52 L425.13,10.53 L426.54,10.55 L427.95,10.56 L429.35,10.57 L430.76,10.58 L432.16,10.59 L433.56,10.60 L434.97,10.61 L436.37,10.61 L437.76,10.61 L439.16,10.61 L440.55,10.61 L441.94,10.61 L443.33,10.60 L444.71,10.59 L446.09,10.57 L447.47,10.56 L448.84,10.53 L450.21,10.51" fill="none" stroke="#00007c" stroke-width="2.40" stroke-linejoin="round" stroke-linecap="round"/>
</g>
<rect x="275.0" y="2.3" width="174.2" height="174.6" fill="none" stroke="#000" stroke-width="1.5"/>
<line x1="275.00" y1="10.20" x2="279.20" y2="10.20" stroke="#000" stroke-width="1.40"/>
<line x1="275.00" y1="85.90" x2="279.20" y2="85.90" stroke="#000" stroke-width="1.40"/>
<line x1="275.00" y1="161.90" x2="279.20" y2="161.90" stroke="#000" stroke-width="1.40"/>
<line x1="318.30" y1="176.90" x2="318.30" y2="172.70" stroke="#000" stroke-width="1.40"/>
<line x1="361.60" y1="176.90" x2="361.60" y2="172.70" stroke="#000" stroke-width="1.40"/>
<line x1="404.90" y1="176.90" x2="404.90" y2="172.70" stroke="#000" stroke-width="1.40"/>
<text x="263.43" y="14.4" font-size="12.0" fill="#000">0</text>
<text x="257.93 262.63" y="90.1" font-size="12.0" fill="#000">-1</text>
<text x="257.93 263.43" y="166.1" font-size="12.0" fill="#000">-2</text>
<text x="263.26 268.75 275.88 279.66" y="191.6" font-size="12.0" fill="#000">-0.8</text>
<text x="306.56 312.05 319.18 322.96" y="191.6" font-size="12.0" fill="#000">-0.6</text>
<text x="349.77 355.27 362.39 366.17" y="191.6" font-size="12.0" fill="#000">-0.4</text>
<text x="393.20 398.69 405.82 409.60" y="191.6" font-size="12.0" fill="#000">-0.2</text>
<text x="439.41 446.53 450.32" y="191.6" font-size="12.0" fill="#000">0.0</text>
<text x="309.8" y="211.6" font-size="15.8" text-anchor="start" fill="#000" textLength="103.4" lengthAdjust="spacingAndGlyphs">E (V <tspan font-style="italic">vs.</tspan> RHE)</text>
<text transform="translate(248.2,136.0) rotate(-90)" font-size="16.5" fill="#000" textLength="88.8" lengthAdjust="spacingAndGlyphs">j<tspan font-size="10" dy="3.6">H2</tspan><tspan dy="-3.6">(mAcm</tspan><tspan font-size="10" dy="-7.6">-2</tspan><tspan dy="7.6">)</tspan></text>
<text x="426.6" y="164.6" font-size="22.0" text-anchor="start" font-weight="bold" fill="#000">B</text>
<clipPath id="cC"><rect x="511.4" y="6.0" width="173.6" height="174.3"/></clipPath>
<g clip-path="url(#cC)">
<path d="M511.00,55.36 L511.37,55.30 L511.81,55.42 L512.31,54.85 L512.86,54.67 L513.46,54.50 L514.11,53.92 L514.80,53.92 L515.51,53.73 L516.25,53.57 L517.01,52.70 L517.78,52.56 L518.56,52.08 L519.33,52.33 L520.10,51.92 L520.86,51.08 L521.60,51.51 L522.32,51.18 L523.00,50.62 L523.63,50.30 L524.27,49.62 L524.91,49.20 L525.55,49.28 L526.19,48.58 L526.83,48.35 L527.48,48.05 L528.12,47.54 L528.76,47.54 L529.40,47.18 L530.04,47.16 L530.67,46.57 L531.31,46.33 L531.93,45.89 L532.56,45.70 L533.18,45.23 L533.79,44.79 L534.40,45.07 L535.00,44.80 L535.70,44.36 L536.39,43.95 L537.07,43.35 L537.73,43.00 L538.39,42.77 L539.04,42.33 L539.69,42.63 L540.34,42.09 L540.98,42.20 L541.63,41.59 L542.29,41.81 L542.95,41.49 L543.62,40.58 L544.30,40.52 L544.99,40.86 L545.70,40.28 L546.34,40.48 L546.99,39.81 L547.65,39.35 L548.32,39.59 L549.00,39.51 L549.68,38.91 L550.37,38.57 L551.06,38.57 L551.75,38.89 L552.44,38.54 L553.14,37.85 L553.83,37.78 L554.52,37.50 L555.21,37.31 L555.89,37.74 L556.57,37.10 L557.24,37.27 L557.90,37.06 L558.64,36.72 L559.39,37.02 L560.13,36.42 L560.88,36.72 L561.63,36.19 L562.37,36.34 L563.11,36.08 L563.84,36.05 L564.57,36.53 L565.29,36.34 L566.01,35.88 L566.71,36.30 L567.40,35.72 L568.08,35.84 L568.75,36.19 L569.40,36.01 L570.18,35.58 L570.95,36.32 L571.71,35.73 L572.45,35.82 L573.17,36.29 L573.89,36.01 L574.58,36.08 L575.27,36.00 L575.94,36.13 L576.60,36.64 L577.25,36.50 L577.88,36.93 L578.50,36.90 L579.28,37.17 L580.04,37.80 L580.77,37.67 L581.48,38.01 L582.16,38.52 L582.83,38.28 L583.49,38.57 L584.13,39.51 L584.77,39.79 L585.40,39.70 L586.03,40.04 L586.65,40.90 L587.25,41.51 L587.85,41.38 L588.44,42.46 L589.01,42.89 L589.56,43.16 L590.09,43.50 L590.61,43.72 L591.10,44.13 L591.67,45.41 L592.19,45.32 L592.67,46.16 L593.12,46.28 L593.57,47.25 L594.03,47.64 L594.50,48.06 L595.00,48.74 L595.30,49.67 L595.62,49.68 L595.94,50.36 L596.26,51.20 L596.59,52.04 L596.92,52.48 L597.25,52.86 L597.58,54.03 L597.91,54.14 L598.24,54.69 L598.56,55.61 L598.88,56.47 L599.20,56.90 L599.50,57.74 L599.73,58.49 L599.96,59.27 L600.19,59.55 L600.42,60.39 L600.65,61.48 L600.87,62.24 L601.10,62.67 L601.32,63.39 L601.54,64.01 L601.75,64.35 L601.97,64.97 L602.18,65.65 L602.39,67.06 L602.60,67.57 L602.80,68.45 L603.01,68.36 L603.20,69.49 L603.40,69.99 L603.65,70.96 L603.89,71.39 L604.12,72.67 L604.35,72.66 L604.58,73.76 L604.80,74.62 L605.02,75.45 L605.23,76.01 L605.45,76.67 L605.66,77.44 L605.87,78.23 L606.08,78.47 L606.29,79.44 L606.50,80.32 L606.71,81.00 L606.91,81.32 L607.11,82.29 L607.30,83.00 L607.49,83.42 L607.68,84.12 L607.88,84.59 L608.07,85.43 L608.26,86.15 L608.46,86.44 L608.66,87.64 L608.87,88.70 L609.08,89.44 L609.30,90.18 L609.45,90.49 L609.59,91.36 L609.75,91.86 L609.90,92.38 L610.06,93.34 L610.22,93.40 L610.38,94.60 L610.55,94.71 L610.71,95.86 L610.88,96.46 L611.04,96.97 L611.21,98.06 L611.38,98.61 L611.54,99.43 L611.71,100.39 L611.87,100.58 L612.03,101.10 L612.19,102.05 L612.35,103.06 L612.50,103.38 L612.65,104.05 L612.80,105.32 L612.95,105.84 L613.10,106.38 L613.25,107.46 L613.39,107.72 L613.54,108.70 L613.68,109.04 L613.82,109.94 L613.96,110.96 L614.10,111.76 L614.23,112.45 L614.37,112.76 L614.50,113.64 L614.64,114.14 L614.77,114.71 L614.90,115.71 L615.04,116.70 L615.17,117.42 L615.30,118.03 L615.43,118.93 L615.57,119.11 L615.70,119.74 L615.83,120.67 L615.97,121.25 L616.10,121.91 L616.23,122.79 L616.36,123.67 L616.49,124.28 L616.62,124.85 L616.75,125.99 L616.88,126.81 L617.01,127.10 L617.14,127.52 L617.27,128.20 L617.40,129.58 L617.52,129.63 L617.65,130.88 L617.78,131.49 L617.90,131.99 L618.03,133.09 L618.15,133.19 L618.28,133.99 L618.40,134.96 L618.52,135.34 L618.65,136.71 L618.77,136.98 L618.89,137.64 L619.01,138.32 L619.13,139.53 L619.24,140.14 L619.36,141.04 L619.48,141.81 L619.60,142.69 L619.71,143.55 L619.83,144.07 L619.95,144.41 L620.07,145.35 L620.18,145.82 L620.30,146.38 L620.42,147.43 L620.54,148.29 L620.66,148.51 L620.78,149.21 L620.90,149.88 L621.08,151.03 L621.26,151.71 L621.44,152.57 L621.62,153.43 L621.80,153.86 L621.98,154.87 L622.16,155.64 L622.35,155.65 L622.53,156.98 L622.72,157.47 L622.91,157.65 L623.10,158.58 L623.30,159.40 L623.50,160.33 L623.71,160.63 L623.92,161.52 L624.13,162.52 L624.36,163.21 L624.58,164.09 L624.80,164.47 L625.03,165.37 L625.26,165.76 L625.49,166.90 L625.71,167.69 L625.94,168.24 L626.16,168.96 L626.38,169.18 L626.60,170.32 L626.92,171.23 L627.24,172.00 L627.54,172.36 L627.84,173.23 L628.15,173.48 L628.46,174.55 L628.79,175.10 L629.13,175.28 L629.50,175.67 L629.92,176.58 L630.39,177.31 L630.90,178.14 L631.42,178.56 L631.94,178.80 L632.42,179.99 L632.86,179.90 L633.23,180.91 L633.50,180.74" fill="none" stroke="#6ec6f2" stroke-width="2.50" stroke-linejoin="round" stroke-linecap="round"/>
<path d="M511.00,71.28 L511.37,71.28 L511.81,71.11 L512.31,70.49 L512.86,70.16 L513.46,70.21 L514.11,69.86 L514.80,70.02 L515.51,69.63 L516.25,69.26 L517.01,68.92 L517.78,68.70 L518.56,67.97 L519.33,67.90 L520.10,67.37 L520.86,67.66 L521.60,66.69 L522.32,67.02 L523.00,66.16 L523.67,66.39 L524.34,65.86 L525.02,65.67 L525.69,65.78 L526.37,64.88 L527.05,64.67 L527.73,65.12 L528.40,64.55 L529.08,63.98 L529.76,64.46 L530.43,64.18 L531.10,63.27 L531.76,63.27 L532.42,62.78 L533.08,62.67 L533.72,62.65 L534.37,62.01 L535.00,62.16 L535.66,61.34 L536.31,61.13 L536.95,61.33 L537.58,60.68 L538.20,60.37 L538.81,60.19 L539.42,59.76 L540.03,59.35 L540.64,58.73 L541.25,58.94 L541.87,58.79 L542.48,58.45 L543.11,57.85 L543.74,57.25 L544.38,56.91 L545.03,56.81 L545.70,56.44 L546.31,55.67 L546.92,55.43 L547.55,55.20 L548.18,54.97 L548.82,54.86 L549.47,54.26 L550.11,53.53 L550.77,53.81 L551.42,53.14 L552.08,52.86 L552.74,52.26 L553.39,52.08 L554.05,51.69 L554.70,51.66 L555.35,50.78 L556.00,50.80 L556.64,50.18 L557.27,50.27 L557.90,49.43 L558.56,49.30 L559.23,49.02 L559.91,48.93 L560.59,48.13 L561.28,48.13 L561.96,47.61 L562.64,47.35 L563.32,47.19 L563.99,47.27 L564.65,46.58 L565.30,46.67 L565.94,45.76 L566.57,46.09 L567.17,45.39 L567.76,45.00 L568.33,45.22 L568.88,45.13 L569.40,44.21 L570.27,44.09 L571.06,44.21 L571.78,43.62 L572.45,43.33 L573.09,42.97 L573.70,42.85 L574.30,43.20 L574.91,43.40 L575.54,43.34 L576.20,42.90 L576.96,42.50 L577.73,42.75 L578.49,43.17 L579.26,43.29 L580.03,43.25 L580.80,43.07 L581.56,43.49 L582.33,43.65 L583.10,44.00 L583.80,43.95 L584.51,44.77 L585.23,45.04 L585.95,44.79 L586.67,45.25 L587.38,46.08 L588.07,45.98 L588.74,46.90 L589.39,46.94 L590.00,47.46 L590.64,47.86 L591.24,47.85 L591.81,48.28 L592.35,48.64 L592.88,49.38 L593.40,49.83 L593.93,49.86 L594.45,51.00 L595.00,51.24 L595.39,51.56 L595.77,52.20 L596.16,53.14 L596.55,53.34 L596.95,53.94 L597.34,54.75 L597.73,55.38 L598.11,55.84 L598.50,56.20 L598.88,56.99 L599.26,57.92 L599.63,58.52 L600.00,59.06 L600.30,59.48 L600.59,60.12 L600.89,61.06 L601.19,61.59 L601.48,61.84 L601.78,63.10 L602.07,63.96 L602.36,64.59 L602.64,65.40 L602.92,66.13 L603.20,66.55 L603.47,67.47 L603.74,67.86 L604.00,68.33 L604.25,69.22 L604.50,69.85 L604.76,71.04 L605.00,71.53 L605.24,72.10 L605.47,72.84 L605.69,73.11 L605.91,74.10 L606.13,74.89 L606.34,75.31 L606.54,75.84 L606.75,76.63 L606.96,77.22 L607.17,78.16 L607.37,78.39 L607.59,79.01 L607.80,79.85 L608.03,80.86 L608.26,81.59 L608.49,82.18 L608.72,83.06 L608.95,83.26 L609.17,83.65 L609.40,84.68 L609.63,85.32 L609.85,85.80 L610.08,86.91 L610.31,87.40 L610.54,88.10 L610.77,88.99 L611.00,90.36 L611.16,90.21 L611.31,91.12 L611.47,91.70 L611.63,92.31 L611.79,93.17 L611.95,93.70 L612.11,94.96 L612.27,95.35 L612.43,96.24 L612.59,96.55 L612.75,97.53 L612.91,98.39 L613.07,99.34 L613.23,99.61 L613.38,100.54 L613.54,101.60 L613.69,102.33 L613.85,102.60 L614.00,103.58 L614.15,104.49 L614.30,104.92 L614.45,105.85 L614.59,106.56 L614.74,107.52 L614.88,107.90 L615.02,108.72 L615.17,109.17 L615.31,110.19 L615.45,110.57 L615.59,111.43 L615.72,112.03 L615.86,112.70 L616.00,113.28 L616.14,114.07 L616.27,115.04 L616.40,115.52 L616.54,116.07 L616.67,117.39 L616.80,117.69 L616.94,118.92 L617.07,119.36 L617.20,119.91 L617.33,121.01 L617.46,121.75 L617.59,122.00 L617.72,122.56 L617.85,123.68 L617.97,124.56 L618.10,125.09 L618.23,125.94 L618.35,126.36 L618.48,127.24 L618.60,127.67 L618.72,128.50 L618.84,129.19 L618.97,129.91 L619.09,130.63 L619.21,131.67 L619.33,131.88 L619.45,132.62 L619.57,133.38 L619.68,134.66 L619.80,135.02 L619.92,135.36 L620.03,136.72 L620.14,137.49 L620.25,138.19 L620.36,138.57 L620.47,139.62 L620.57,140.03 L620.68,140.65 L620.79,141.98 L620.89,142.71 L621.00,142.95 L621.10,144.23 L621.21,144.27 L621.31,145.22 L621.42,145.69 L621.53,146.51 L621.64,147.19 L621.75,148.29 L621.87,148.60 L621.98,149.15 L622.10,149.75 L622.28,150.72 L622.46,151.98 L622.64,152.56 L622.83,152.90 L623.01,154.09 L623.20,154.66 L623.39,155.27 L623.59,156.00 L623.78,156.75 L623.98,157.53 L624.18,157.95 L624.38,158.72 L624.59,159.27 L624.80,160.11 L625.01,160.63 L625.23,161.40 L625.45,162.23 L625.67,163.15 L625.89,163.56 L626.12,164.84 L626.35,165.24 L626.58,166.28 L626.81,166.88 L627.05,167.80 L627.29,168.27 L627.52,168.72 L627.76,169.33 L628.00,170.09 L628.38,171.05 L628.76,171.89 L629.14,172.04 L629.53,172.65 L629.93,173.31 L630.32,173.89 L630.72,174.46 L631.11,175.01 L631.50,175.80 L631.96,176.40 L632.46,177.59 L632.97,178.26 L633.47,179.25 L633.94,179.90 L634.37,180.32 L634.73,180.98 L635.00,180.62" fill="none" stroke="#05a6bf" stroke-width="2.40" stroke-linejoin="round" stroke-linecap="round"/>
<path d="M511.00,73.46 L511.61,73.54 L512.49,73.17 L513.37,72.93 L514.16,72.06 L514.95,71.76 L515.74,71.36 L516.53,71.09 L517.32,71.16 L518.11,70.35 L518.90,70.33 L519.69,69.75 L520.48,69.48 L521.28,69.26 L522.07,69.25 L522.86,68.74 L523.66,67.95 L524.45,67.84 L525.25,67.42 L526.05,67.69 L526.85,67.34 L527.65,67.03 L528.46,66.74 L529.26,66.37 L530.06,66.22 L530.85,65.78 L531.65,65.03 L532.44,65.18 L533.23,64.56 L534.02,64.43 L534.80,63.92 L535.58,63.44 L536.35,63.01 L537.11,62.68 L537.87,62.19 L538.63,61.62 L539.38,61.77 L540.13,61.34 L540.88,61.07 L541.63,60.41 L542.38,59.88 L543.13,59.61 L543.88,58.70 L544.63,58.72 L545.38,58.13 L546.14,57.50 L546.89,57.11 L547.64,56.96 L548.40,56.33 L549.15,56.08 L549.90,55.79 L550.66,55.21 L551.41,54.58 L552.16,54.46 L552.92,53.85 L553.67,53.44 L554.43,53.00 L555.19,52.74 L555.95,52.11 L556.71,52.18 L557.48,52.03 L558.25,51.19 L559.02,51.08 L559.79,50.87 L560.56,49.78 L561.33,49.49 L562.11,49.65 L562.89,49.31 L563.66,48.79 L564.44,48.04 L565.22,47.89 L566.01,47.91 L566.80,47.58 L567.59,47.18 L568.38,46.38 L569.18,46.59 L569.99,45.90 L570.80,45.89 L571.61,45.16 L572.44,45.59 L573.27,45.08 L574.11,45.00 L574.95,44.46 L575.81,44.69 L576.66,44.61 L577.51,44.60 L578.37,44.43 L579.22,44.78 L580.07,44.55 L580.91,44.64 L581.74,44.68 L582.57,45.27 L583.40,45.03 L584.21,45.36 L585.01,45.51 L585.81,46.29 L586.59,46.56 L587.36,46.92 L588.12,46.91 L588.87,47.64 L589.62,47.99 L590.35,48.23 L591.07,48.62 L591.78,49.90 L592.48,49.71 L593.15,50.39 L593.78,50.94 L594.39,51.80 L594.98,52.01 L595.54,52.97 L596.09,53.55 L596.62,54.60 L597.13,54.62 L597.63,55.58 L598.11,56.41 L598.58,57.50 L599.04,57.87 L599.48,58.56 L599.92,59.46 L600.34,59.90 L600.75,60.44 L601.14,61.57 L601.53,62.66 L601.91,63.28 L602.28,63.67 L602.65,64.78 L603.01,65.68 L603.36,65.99 L603.71,67.03 L604.05,67.63 L604.42,68.42 L604.78,69.33 L605.04,69.88" fill="none" stroke="#05a6bf" stroke-width="1.30" stroke-linejoin="round" stroke-linecap="round"/>
<path d="M511.00,75.80 L511.38,76.11 L511.85,75.86 L512.41,75.84 L513.04,75.02 L513.72,74.70 L514.44,74.76 L515.18,74.37 L515.93,73.76 L516.66,73.73 L517.37,73.19 L518.04,73.20 L518.68,72.39 L519.32,72.19 L519.96,72.45 L520.61,71.73 L521.25,71.38 L521.89,71.53 L522.53,71.11 L523.17,70.45 L523.82,70.49 L524.46,70.30 L525.10,69.63 L525.75,69.74 L526.39,69.05 L527.04,68.96 L527.69,68.49 L528.34,68.32 L528.99,68.68 L529.64,67.95 L530.28,68.15 L530.93,67.44 L531.57,67.29 L532.20,67.21 L532.84,66.77 L533.47,66.01 L534.10,66.09 L534.73,65.82 L535.36,65.14 L535.99,64.76 L536.61,65.06 L537.24,64.45 L537.86,63.88 L538.48,63.76 L539.10,63.24 L539.72,63.38 L540.33,62.80 L540.95,62.14 L541.56,62.37 L542.17,61.45 L542.78,61.25 L543.39,60.70 L544.00,60.93 L544.61,60.08 L545.22,60.06 L545.83,59.38 L546.44,59.34 L547.06,59.17 L547.67,58.71 L548.28,58.30 L548.90,57.99 L549.51,57.61 L550.12,57.40 L550.74,56.66 L551.35,56.63 L551.97,56.10 L552.59,56.27 L553.21,56.00 L553.83,54.97 L554.44,54.71 L555.06,54.83 L555.69,54.39 L556.31,53.63 L556.93,53.85 L557.55,53.72 L558.18,52.99 L558.80,52.61 L559.43,52.48 L560.06,52.46 L560.69,51.61 L561.31,51.32 L561.94,50.92 L562.57,50.96 L563.21,50.53 L563.84,50.06 L564.48,49.87 L565.11,49.30 L565.76,49.24 L566.40,49.51 L567.12,48.90 L567.84,48.37 L568.56,48.60 L569.28,47.86 L570.01,47.50 L570.74,47.07 L571.47,46.92 L572.21,46.75 L572.95,46.59 L573.69,46.95 L574.44,46.33 L575.20,46.20 L575.97,46.40 L576.73,46.58 L577.50,46.03 L578.27,46.38 L579.04,46.06 L579.80,46.24 L580.56,46.33 L581.30,46.69 L582.05,46.65 L582.79,46.59 L583.54,47.03 L584.28,46.84 L585.01,47.08 L585.74,47.78 L586.46,47.72 L587.16,48.19 L587.86,48.13 L588.54,48.94 L589.20,49.06 L589.86,49.15 L590.51,50.11 L591.15,50.17 L591.78,50.53 L592.39,50.94 L593.00,51.30 L593.59,51.88 L594.16,52.79 L594.71,52.88 L595.25,53.51 L595.77,54.22 L596.27,54.88 L596.76,55.34 L597.24,56.27 L597.70,56.46 L598.16,57.17 L598.60,57.85 L599.04,58.24 L599.48,58.95 L599.91,59.52 L600.33,60.62 L600.74,60.80 L601.14,61.87 L601.53,62.17 L601.92,63.17 L602.30,63.84 L602.67,64.27 L603.03,65.41 L603.39,65.86 L603.75,66.46 L604.09,66.74 L604.44,67.71 L604.77,68.29 L605.10,69.15 L605.42,70.22 L605.73,70.86 L606.04,70.93 L606.33,72.13 L606.62,73.05 L606.87,73.39 L607.11,73.69 L607.35,74.96 L607.58,75.27 L607.80,76.38 L608.01,76.97 L608.22,77.60 L608.43,78.35 L608.64,78.33 L608.85,79.58 L609.06,79.86 L609.26,80.39 L609.47,81.26 L609.67,82.10 L609.88,82.30 L610.08,83.33 L610.28,84.27 L610.47,84.71 L610.66,85.41 L610.85,85.90 L611.04,87.11 L611.22,87.21 L611.40,88.24 L611.57,88.89 L611.75,89.05 L611.91,90.53 L612.08,90.60 L612.24,91.88 L612.40,92.52 L612.56,93.18 L612.72,93.83 L612.88,94.14 L613.03,94.87 L613.18,95.47 L613.34,96.63 L613.48,96.59 L613.63,97.36 L613.78,98.70 L613.92,99.27 L614.06,99.87 L614.20,100.77 L614.35,101.10 L614.49,102.04 L614.63,102.41 L614.77,103.46 L614.91,103.48 L615.06,104.47 L615.20,105.26 L615.34,106.13 L615.48,106.51 L615.62,107.41 L615.76,108.33 L615.90,108.57 L616.04,109.09 L616.17,109.64 L616.31,110.99 L616.45,111.37 L616.58,111.99 L616.72,112.78 L616.85,113.15 L616.98,113.92 L617.12,114.62 L617.25,115.32 L617.38,116.50 L617.51,116.69 L617.65,117.26 L617.78,118.57 L617.91,119.01 L618.03,119.28 L618.16,120.48 L618.29,121.18 L618.42,121.84 L618.55,122.63 L618.67,123.04 L618.80,123.57 L618.92,124.68 L619.05,125.27 L619.18,126.02 L619.30,126.30 L619.42,127.14 L619.55,128.08 L619.67,128.53 L619.79,129.39 L619.91,129.98 L620.04,130.90 L620.16,131.26 L620.28,132.07 L620.40,133.03 L620.52,133.31 L620.64,133.89 L620.76,134.95 L620.88,135.24 L620.99,136.51 L621.11,136.73 L621.23,137.93 L621.35,138.32 L621.46,138.71 L621.58,139.69 L621.70,140.51 L621.82,141.05 L621.93,141.86 L622.04,142.34 L622.16,143.50 L622.27,143.57 L622.38,144.76 L622.50,144.83 L622.62,145.91 L622.74,146.24 L622.87,146.99 L623.00,148.04 L623.15,148.98 L623.29,149.19 L623.44,149.95 L623.59,150.69 L623.75,151.48 L623.91,151.96 L624.07,152.64 L624.24,153.72 L624.41,154.16 L624.58,154.68 L624.76,155.73 L624.93,156.55 L625.11,156.78 L625.30,157.12 L625.48,158.03 L625.67,159.18 L625.87,159.27 L626.06,159.97 L626.26,161.12 L626.46,161.25 L626.65,162.51 L626.85,162.68 L627.05,163.48 L627.24,164.33 L627.42,164.62 L627.60,165.83 L627.79,166.24 L627.98,167.18 L628.18,167.85 L628.40,167.97 L628.62,169.22 L628.87,169.87 L629.14,170.05 L629.48,171.06 L629.87,171.51 L630.31,172.55 L630.76,173.49 L631.22,173.94 L631.67,174.79 L632.09,175.13 L632.47,176.30 L632.78,176.62 L633.02,177.17" fill="none" stroke="#0a78c4" stroke-width="2.30" stroke-linejoin="round" stroke-linecap="round"/>
<path d="M511.00,79.70 L511.60,78.65 L512.46,78.82 L513.32,77.95 L514.09,78.25 L514.86,77.10 L515.63,77.43 L516.40,76.90 L517.18,76.68 L517.95,76.42 L518.72,75.45 L519.49,75.16 L520.27,75.09 L521.04,74.39 L521.81,74.01 L522.58,73.62 L523.36,73.76 L524.13,73.41 L524.91,72.99 L525.68,72.18 L526.46,72.38 L527.24,71.70 L528.02,71.12 L528.79,70.95 L529.57,70.56 L530.35,69.93 L531.12,69.96 L531.89,69.43 L532.66,69.23 L533.43,69.14 L534.20,68.54 L534.96,67.96 L535.72,67.93 L536.48,67.64 L537.23,66.83 L537.98,66.78 L538.73,65.63 L539.47,65.31 L540.22,64.91 L540.96,65.10 L541.70,64.48 L542.45,64.08 L543.19,63.31 L543.94,63.06 L544.68,62.95 L545.43,61.91 L546.18,61.51 L546.93,61.04 L547.67,60.96 L548.42,60.84 L549.17,60.20 L549.92,59.66 L550.66,59.32 L551.41,58.65 L552.16,58.85 L552.91,57.96 L553.66,57.45 L554.41,57.11 L555.16,57.11 L555.92,56.31 L556.68,56.38 L557.44,55.54 L558.20,55.23 L558.96,54.56 L559.73,54.84 L560.49,54.36 L561.26,53.73 L562.02,53.06 L562.79,52.98 L563.56,52.52 L564.33,52.53 L565.11,52.24 L565.89,51.74 L566.68,51.04 L567.46,50.51 L568.26,50.88 L569.06,50.62 L569.87,49.71 L570.68,49.72 L571.50,49.45 L572.32,49.62 L573.15,48.67 L573.99,48.50 L574.82,48.96 L575.66,48.60 L576.51,48.39 L577.35,48.55 L578.19,48.32 L579.04,48.34 L579.89,47.95 L580.73,47.81 L581.58,47.76 L582.42,48.06 L583.26,48.40 L584.09,48.32 L584.92,48.48 L585.74,48.92 L586.54,49.28 L587.33,49.53 L588.10,49.66 L588.86,50.46 L589.60,50.87 L590.33,51.39 L591.05,51.86 L591.74,51.65 L592.42,52.69 L593.09,52.97 L593.73,53.56 L594.37,54.24 L594.99,54.52 L595.60,55.20 L596.19,56.41 L596.77,56.51 L597.33,57.62 L597.88,58.08 L598.42,58.44 L598.95,59.11 L599.47,60.02 L599.99,60.77 L600.49,61.17 L601.00,61.63 L601.49,62.41 L601.98,63.65 L602.47,64.24 L602.95,64.44 L603.43,65.73 L603.89,66.23 L604.35,66.76 L604.79,67.93 L605.22,68.05 L605.67,68.86 L606.11,69.90 L606.42,70.80" fill="none" stroke="#00007c" stroke-width="1.80" stroke-linejoin="round" stroke-linecap="round"/>
<path d="M511.00,81.86 L511.35,81.81 L511.76,81.54 L512.22,81.34 L512.74,81.04 L513.30,81.01 L513.90,80.31 L514.54,80.37 L515.21,79.41 L515.90,79.35 L516.61,79.03 L517.33,78.48 L518.06,78.71 L518.80,77.91 L519.54,78.02 L520.26,77.82 L520.98,76.76 L521.68,77.05 L522.35,76.63 L523.00,76.17 L523.63,75.21 L524.27,75.33 L524.91,75.18 L525.55,74.53 L526.19,74.15 L526.83,73.92 L527.48,73.55 L528.12,73.76 L528.76,73.01 L529.40,72.77 L530.04,72.67 L530.67,72.66 L531.31,71.69 L531.93,71.12 L532.56,71.74 L533.18,71.28 L533.79,70.92 L534.40,70.34 L535.00,69.73 L535.66,69.30 L536.31,69.10 L536.95,68.91 L537.58,68.17 L538.20,68.46 L538.81,68.14 L539.42,67.08 L540.03,67.56 L540.64,66.86 L541.25,66.94 L541.87,66.14 L542.48,66.11 L543.11,65.41 L543.74,65.21 L544.38,64.74 L545.03,63.89 L545.70,63.64 L546.31,63.39 L546.92,63.22 L547.55,62.84 L548.18,62.65 L548.82,62.41 L549.47,61.79 L550.11,61.34 L550.77,61.17 L551.42,61.24 L552.08,60.71 L552.74,60.21 L553.39,60.01 L554.05,59.06 L554.70,58.58 L555.35,58.22 L556.00,57.91 L556.64,57.46 L557.27,57.75 L557.90,57.72 L558.56,56.58 L559.21,56.82 L559.86,56.74 L560.50,56.24 L561.15,55.30 L561.79,55.46 L562.43,54.76 L563.06,54.37 L563.70,53.89 L564.33,54.11 L564.97,54.20 L565.60,53.10 L566.23,52.87 L566.86,52.84 L567.50,52.24 L568.13,52.42 L568.76,52.45 L569.40,51.96 L570.12,51.30 L570.86,51.07 L571.61,51.02 L572.36,51.28 L573.12,51.34 L573.88,50.73 L574.64,50.16 L575.39,50.11 L576.13,50.16 L576.86,49.72 L577.57,49.60 L578.27,49.81 L578.94,50.13 L579.59,49.45 L580.21,50.03 L580.80,49.98 L581.67,49.49 L582.46,49.27 L583.19,49.26 L583.86,49.80 L584.51,50.06 L585.13,50.23 L585.74,49.75 L586.37,50.18 L587.01,50.03 L587.70,50.60 L588.30,50.88 L588.90,51.02 L589.52,51.33 L590.13,52.63 L590.75,52.35 L591.38,52.98 L591.99,53.47 L592.61,53.88 L593.22,54.48 L593.83,54.89 L594.42,55.38 L595.00,55.48 L595.53,56.51 L596.06,57.05 L596.58,57.63 L597.10,57.75 L597.62,58.45 L598.13,59.36 L598.64,59.84 L599.14,59.74 L599.63,60.59 L600.11,61.00 L600.59,62.10 L601.05,62.35 L601.50,62.89 L601.98,63.31 L602.45,64.11 L602.91,64.95 L603.37,65.43 L603.81,65.59 L604.24,66.34 L604.67,67.14 L605.08,67.15 L605.48,68.58 L605.86,68.30 L606.24,69.51 L606.60,69.65 L606.94,71.08 L607.27,71.42 L607.58,71.56 L607.87,72.45 L608.16,73.41 L608.43,74.04 L608.70,74.50 L608.96,75.14 L609.22,75.94 L609.48,76.84 L609.74,77.20 L610.00,78.12 L610.19,78.90 L610.37,79.22 L610.55,79.56 L610.73,80.57 L610.91,80.99 L611.08,82.03 L611.25,82.75 L611.43,83.61 L611.60,83.53 L611.77,84.17 L611.94,85.81 L612.12,86.36 L612.29,87.38 L612.46,87.97 L612.64,88.88 L612.82,88.86 L613.00,89.69 L613.15,90.76 L613.30,91.57 L613.45,91.60 L613.60,93.12 L613.75,93.09 L613.91,93.77 L614.06,94.71 L614.21,95.18 L614.37,95.81 L614.52,96.53 L614.68,97.21 L614.83,98.06 L614.99,99.33 L615.14,100.17 L615.29,100.90 L615.45,101.28 L615.60,102.35 L615.75,102.45 L615.90,103.92 L616.05,104.19 L616.20,104.62 L616.35,105.60 L616.49,106.12 L616.64,107.39 L616.79,107.73 L616.93,108.09 L617.08,108.98 L617.22,109.58 L617.37,111.17 L617.51,111.34 L617.65,112.43 L617.80,112.95 L617.94,113.48 L618.08,114.52 L618.22,115.05 L618.36,115.26 L618.50,116.92 L618.64,116.99 L618.78,118.01 L618.92,118.49 L619.06,119.75 L619.20,119.67 L619.34,120.27 L619.47,120.97 L619.61,122.04 L619.74,123.21 L619.88,123.52 L620.01,124.72 L620.14,124.64 L620.27,126.18 L620.40,126.10 L620.53,127.53 L620.67,127.55 L620.80,128.65 L620.93,129.40 L621.06,130.47 L621.19,130.63 L621.32,131.77 L621.46,131.69 L621.59,133.26 L621.73,133.59 L621.86,134.32 L622.00,135.47 L622.14,135.53 L622.28,136.56 L622.42,137.27 L622.56,137.73 L622.71,138.33 L622.85,139.36 L623.00,139.97 L623.15,141.05 L623.29,141.60 L623.44,142.02 L623.59,143.37 L623.73,144.35 L623.88,144.77 L624.02,145.17 L624.17,145.88 L624.31,147.23 L624.45,147.40 L624.59,148.34 L624.73,148.34 L624.87,149.71 L625.00,150.39 L625.20,150.63 L625.39,151.50 L625.58,152.62 L625.77,153.67 L625.95,154.23 L626.14,154.16 L626.32,154.93 L626.50,156.37 L626.68,156.54 L626.86,157.74 L627.04,157.90 L627.23,158.95 L627.41,159.02 L627.60,160.46 L627.79,160.70 L627.98,160.97 L628.16,161.91 L628.35,162.56 L628.54,163.65 L628.72,164.95 L628.91,165.72 L629.10,166.42 L629.29,166.63 L629.49,167.70 L629.69,168.36 L629.89,169.11 L630.09,169.88 L630.30,170.33 L630.63,171.11 L630.96,171.44 L631.30,172.00 L631.64,172.91 L632.00,173.41 L632.36,174.47 L632.73,174.47 L633.11,175.10 L633.50,176.23 L633.93,176.17 L634.41,176.86 L634.92,177.43 L635.44,178.08 L635.95,178.77 L636.43,179.98 L636.86,180.01 L637.23,180.28 L637.50,181.00" fill="none" stroke="#00007c" stroke-width="2.50" stroke-linejoin="round" stroke-linecap="round"/>
<path d="M511.00,73.45 L511.62,73.36 L512.49,73.09 L513.37,72.31 L514.16,72.26 L514.95,71.89 L515.74,71.53 L516.53,70.87 L517.33,70.49 L518.12,70.37 L518.91,70.25 L519.70,69.63 L520.49,69.45 L521.28,69.01 L522.08,68.99 L522.87,68.73 L523.67,68.08 L524.47,68.13 L525.26,67.25 L526.07,67.39 L526.87,67.13 L527.67,66.39 L528.47,66.42 L529.27,66.03 L530.07,65.96 L530.87,65.20 L531.67,65.08 L532.46,64.96 L533.25,64.48 L534.04,63.93 L534.82,63.44 L535.60,63.59 L536.37,62.93 L537.14,62.86 L537.90,61.95 L538.65,61.95 L539.41,61.54 L540.16,61.18 L540.91,60.22 L541.66,60.01 L542.40,59.40 L543.15,59.40 L543.90,58.74 L544.65,58.69 L545.41,57.93 L546.16,57.76 L546.92,57.40 L547.67,56.62 L548.43,56.40 L549.18,56.22 L549.93,55.55 L550.68,55.04 L551.44,54.57 L552.19,54.47 L552.95,53.71 L553.70,53.55 L554.46,53.11 L555.22,52.71 L555.98,52.06 L556.74,51.98 L557.51,51.75 L558.28,51.01 L559.05,50.64 L559.82,50.61 L560.59,50.03 L561.37,49.48 L562.14,48.95 L562.92,49.03 L563.70,48.42 L564.48,48.13 L565.26,47.66 L566.04,47.53 L566.83,47.25 L567.62,46.66 L568.42,46.20 L569.22,46.44 L570.02,46.09 L570.83,45.27 L571.65,45.33 L572.47,45.16 L573.31,44.78 L574.14,44.80 L574.99,44.81 L575.84,44.50 L576.70,44.33 L577.55,44.20 L578.41,44.25 L579.26,44.25 L580.10,44.32 L580.95,44.50 L581.78,45.03 L582.61,45.03 L583.43,45.41 L584.25,45.73 L585.05,45.95 L585.84,45.81 L586.62,46.68 L587.39,46.55 L588.15,47.36 L588.90,47.81 L589.65,48.13 L590.38,48.42 L591.10,48.69 L591.81,49.18 L592.51,50.02 L593.18,50.32 L593.81,51.07 L594.42,51.51 L595.00,52.08 L595.56,52.80 L596.11,53.72 L596.63,54.26 L597.14,54.89 L597.64,55.64 L598.12,56.39 L598.59,57.08 L599.04,57.77 L599.48,58.81 L599.91,59.42 L600.33,59.86 L600.74,60.66 L601.13,61.34 L601.51,62.21 L601.89,62.77 L602.26,63.97 L602.62,64.64 L602.98,65.33 L603.33,66.39 L603.67,66.83 L604.01,67.77 L604.34,68.77 L604.67,69.34 L604.99,70.17 L605.30,70.82 L605.61,72.00 L605.91,72.65 L606.19,73.19 L606.47,74.04 L606.75,74.99 L607.01,75.76 L607.28,76.58 L607.54,77.20 L607.79,78.25 L608.05,79.15 L608.31,80.01 L608.59,80.72 L608.89,81.63 L609.09,82.30" fill="none" stroke="#fff" stroke-width="0.80" stroke-linejoin="round" stroke-linecap="butt" stroke-dasharray="2.5,2"/>
</g>
<rect x="511.4" y="6.0" width="173.6" height="174.3" fill="none" stroke="#000" stroke-width="1.5"/>
<line x1="511.40" y1="145.44" x2="515.60" y2="145.44" stroke="#000" stroke-width="1.40"/>
<line x1="511.40" y1="110.58" x2="515.60" y2="110.58" stroke="#000" stroke-width="1.40"/>
<line x1="511.40" y1="75.72" x2="515.60" y2="75.72" stroke="#000" stroke-width="1.40"/>
<line x1="511.40" y1="40.86" x2="515.60" y2="40.86" stroke="#000" stroke-width="1.40"/>
<line x1="554.70" y1="180.30" x2="554.70" y2="176.10" stroke="#000" stroke-width="1.40"/>
<line x1="598.00" y1="180.30" x2="598.00" y2="176.10" stroke="#000" stroke-width="1.40"/>
<line x1="641.30" y1="180.30" x2="641.30" y2="176.10" stroke="#000" stroke-width="1.40"/>
<text x="500.13" y="184.5" font-size="12.0" fill="#000">0</text>
<text x="493.25 500.13" y="149.6" font-size="12.0" fill="#000">20</text>
<text x="493.25 500.13" y="114.8" font-size="12.0" fill="#000">40</text>
<text x="493.25 500.13" y="79.9" font-size="12.0" fill="#000">60</text>
<text x="493.25 500.13" y="45.1" font-size="12.0" fill="#000">80</text>
<text x="485.58 493.25 500.13" y="10.2" font-size="12.0" fill="#000">100</text>
<text x="499.66 505.15 512.28 516.06" y="195.2" font-size="12.0" fill="#000">-0.8</text>
<text x="542.96 548.45 555.58 559.36" y="195.2" font-size="12.0" fill="#000">-0.6</text>
<text x="586.17 591.67 598.79 602.57" y="195.2" font-size="12.0" fill="#000">-0.4</text>
<text x="629.60 635.09 642.22 646.00" y="195.2" font-size="12.0" fill="#000">-0.2</text>
<text x="545.5" y="215.6" font-size="15.8" text-anchor="start" fill="#000" textLength="105.3" lengthAdjust="spacingAndGlyphs">E (V <tspan font-style="italic">vs.</tspan> RHE)</text>
<text transform="translate(476.0,135.9) rotate(-90)" font-size="17.5" fill="#000" textLength="96.8" lengthAdjust="spacingAndGlyphs">FE(CO) (%)</text>
<text x="663.4" y="170.0" font-size="20.8" text-anchor="start" font-weight="bold" fill="#000">C</text>
<line x1="545.50" y1="32.20" x2="545.50" y2="76.00" stroke="#000" stroke-width="1.70"/>
<path d="M545.5,82.4 L541.9,72.6 L545.5,75.0 L549.1,72.6 Z" fill="#000"/>
<text y="99.0" font-size="14.2" font-weight="bold" fill="#000"><tspan x="530.20">[</tspan><tspan x="560.80">]</tspan></text>
<text transform="translate(535.20,98.30) scale(0.930,1)" font-size="13.9" font-weight="bold" fill="#000">Na</text>
<text x="554.90" y="90.9" font-size="8.0" font-weight="bold" fill="#000">+</text>
<line x1="620.50" y1="160.20" x2="620.50" y2="97.00" stroke="#000" stroke-width="1.70"/>
<path d="M620.5,90.8 L616.9,101.0 L620.5,98.6 L624.1,101.0 Z" fill="#000"/>
<text y="113.4" font-size="14.2" font-weight="bold" fill="#000"><tspan x="628.70">[</tspan><tspan x="658.90">]</tspan></text>
<text transform="translate(633.30,112.90) scale(0.930,1)" font-size="13.9" font-weight="bold" fill="#000">Na</text>
<text x="653.20" y="105.2" font-size="8.0" font-weight="bold" fill="#000">+</text>
<line x1="50.30" y1="358.20" x2="157.20" y2="358.20" stroke="#000" stroke-width="1.50"/>
<line x1="67.50" y1="358.20" x2="67.50" y2="354.20" stroke="#000" stroke-width="1.30"/>
<text x="57.37 61.53 67.95 71.31" y="371.0" font-size="11.0" fill="#000">-0.6</text>
<line x1="103.20" y1="358.20" x2="103.20" y2="354.20" stroke="#000" stroke-width="1.30"/>
<text x="92.99 97.15 103.57 106.93" y="371.0" font-size="11.0" fill="#000">-0.4</text>
<line x1="138.90" y1="358.20" x2="138.90" y2="354.20" stroke="#000" stroke-width="1.30"/>
<text x="128.80 132.97 139.39 142.74" y="371.0" font-size="11.0" fill="#000">-0.2</text>
<line x1="176.40" y1="358.20" x2="284.20" y2="358.20" stroke="#000" stroke-width="1.50"/>
<line x1="194.30" y1="358.20" x2="194.30" y2="354.20" stroke="#000" stroke-width="1.30"/>
<text x="184.17 188.33 194.75 198.11" y="371.0" font-size="11.0" fill="#000">-0.6</text>
<line x1="230.00" y1="358.20" x2="230.00" y2="354.20" stroke="#000" stroke-width="1.30"/>
<text x="219.79 223.95 230.37 233.73" y="371.0" font-size="11.0" fill="#000">-0.4</text>
<line x1="265.70" y1="358.20" x2="265.70" y2="354.20" stroke="#000" stroke-width="1.30"/>
<text x="255.60 259.77 266.19 269.54" y="371.0" font-size="11.0" fill="#000">-0.2</text>
<line x1="311.10" y1="358.20" x2="419.30" y2="358.20" stroke="#000" stroke-width="1.50"/>
<line x1="329.40" y1="358.20" x2="329.40" y2="354.20" stroke="#000" stroke-width="1.30"/>
<text x="319.27 323.43 329.85 333.21" y="371.0" font-size="11.0" fill="#000">-0.6</text>
<line x1="365.10" y1="358.20" x2="365.10" y2="354.20" stroke="#000" stroke-width="1.30"/>
<text x="354.89 359.05 365.47 368.83" y="371.0" font-size="11.0" fill="#000">-0.4</text>
<line x1="400.80" y1="358.20" x2="400.80" y2="354.20" stroke="#000" stroke-width="1.30"/>
<text x="390.70 394.87 401.29 404.64" y="371.0" font-size="11.0" fill="#000">-0.2</text>
<line x1="443.00" y1="358.20" x2="551.40" y2="358.20" stroke="#000" stroke-width="1.50"/>
<line x1="461.50" y1="358.20" x2="461.50" y2="354.20" stroke="#000" stroke-width="1.30"/>
<text x="451.37 455.53 461.95 465.31" y="371.0" font-size="11.0" fill="#000">-0.6</text>
<line x1="497.20" y1="358.20" x2="497.20" y2="354.20" stroke="#000" stroke-width="1.30"/>
<text x="486.99 491.15 497.57 500.93" y="371.0" font-size="11.0" fill="#000">-0.4</text>
<line x1="532.90" y1="358.20" x2="532.90" y2="354.20" stroke="#000" stroke-width="1.30"/>
<text x="522.80 526.97 533.39 536.74" y="371.0" font-size="11.0" fill="#000">-0.2</text>
<line x1="50.30" y1="232.20" x2="50.30" y2="358.20" stroke="#000" stroke-width="1.50"/>
<line x1="50.30" y1="358.20" x2="53.60" y2="358.20" stroke="#000" stroke-width="1.30"/>
<text x="39.58" y="361.7" font-size="11.0" fill="#000">0</text>
<line x1="50.30" y1="333.00" x2="53.60" y2="333.00" stroke="#000" stroke-width="1.30"/>
<text x="33.36 39.58" y="336.5" font-size="11.0" fill="#000">20</text>
<line x1="50.30" y1="307.80" x2="53.60" y2="307.80" stroke="#000" stroke-width="1.30"/>
<text x="33.36 39.58" y="311.3" font-size="11.0" fill="#000">40</text>
<line x1="50.30" y1="282.60" x2="53.60" y2="282.60" stroke="#000" stroke-width="1.30"/>
<text x="33.36 39.58" y="286.1" font-size="11.0" fill="#000">60</text>
<line x1="50.30" y1="257.40" x2="53.60" y2="257.40" stroke="#000" stroke-width="1.30"/>
<text x="33.36 39.58" y="260.9" font-size="11.0" fill="#000">80</text>
<line x1="50.30" y1="232.20" x2="53.60" y2="232.20" stroke="#000" stroke-width="1.30"/>
<text x="27.15 33.36 39.58" y="235.7" font-size="11.0" fill="#000">100</text>
<path d="M50.50,260.30 C51.15,259.95 52.68,258.92 54.40,258.20 C56.12,257.48 58.30,256.60 60.80,256.00 C63.30,255.40 66.70,254.90 69.40,254.60 C72.10,254.30 74.40,254.22 77.00,254.20 C79.60,254.18 82.60,254.13 85.00,254.50 C87.40,254.87 89.28,255.23 91.40,256.40 C93.52,257.57 95.58,259.17 97.70,261.50 C99.82,263.83 102.28,267.32 104.10,270.40 C105.92,273.48 107.33,276.73 108.60,280.00 C109.87,283.27 110.77,286.67 111.70,290.00 C112.63,293.33 113.35,296.63 114.20,300.00 C115.05,303.37 115.95,306.82 116.80,310.20 C117.65,313.58 118.50,316.92 119.30,320.30 C120.10,323.68 120.82,327.22 121.60,330.50 C122.38,333.78 123.17,337.08 124.00,340.00 C124.83,342.92 125.72,345.62 126.60,348.00 C127.48,350.38 128.32,352.72 129.30,354.30 C130.28,355.88 131.22,356.82 132.50,357.50 C133.78,358.18 136.25,358.25 137.00,358.40" fill="none" stroke="#6ec6f2" stroke-width="1.90" stroke-linejoin="round" stroke-linecap="round"/>
<path d="M50.50,270.16 L50.82,270.42 L51.22,270.02 L51.69,269.45 L52.21,268.72 L52.79,268.80 L53.40,268.30 L54.03,267.48 L54.68,266.95 L55.33,266.19 L55.97,265.50 L56.60,265.47 L57.22,265.32 L57.85,264.46 L58.49,264.86 L59.14,263.98 L59.81,263.67 L60.48,263.19 L61.17,263.87 L61.86,263.35 L62.56,263.24 L63.28,262.74 L64.00,261.93 L64.68,262.04 L65.38,262.05 L66.09,261.53 L66.82,262.24 L67.55,261.54 L68.29,261.22 L69.03,261.77 L69.77,260.97 L70.50,261.66 L71.22,261.06 L71.92,261.02 L72.60,260.64 L73.33,260.58 L74.07,260.05 L74.80,259.65 L75.52,260.21 L76.23,259.31 L76.93,259.58 L77.61,258.75 L78.27,259.26 L78.91,258.96 L79.52,258.62 L80.10,258.46 L80.92,258.06 L81.65,258.02 L82.30,257.26 L82.93,257.50 L83.57,257.81 L84.24,257.20 L85.00,258.02 L85.65,258.12 L86.32,257.80 L87.03,257.96 L87.75,258.28 L88.48,258.50 L89.22,259.44 L89.96,259.20 L90.69,259.26 L91.40,259.79 L91.93,260.81 L92.47,261.51 L93.01,261.48 L93.55,261.97 L94.09,262.54 L94.63,263.28 L95.17,263.31 L95.69,264.27 L96.21,264.80 L96.72,265.45 L97.22,265.59 L97.70,266.17 L98.14,266.89 L98.56,268.02 L98.99,268.00 L99.40,268.82 L99.81,269.11 L100.21,269.49 L100.60,270.05 L100.99,271.40 L101.37,271.97 L101.74,272.19 L102.10,273.12 L102.45,273.74 L102.80,274.60 L103.14,275.30 L103.46,275.41 L103.78,276.65 L104.09,277.30 L104.39,277.60 L104.69,278.58 L104.97,278.88 L105.26,279.46 L105.53,280.03 L105.80,281.36 L106.07,281.35 L106.34,281.97 L106.60,283.41 L106.84,284.03 L107.08,284.42 L107.31,285.45 L107.54,285.36 L107.76,286.26 L107.98,286.98 L108.19,287.81 L108.41,288.25 L108.61,288.83 L108.82,289.78 L109.02,291.00 L109.22,291.74 L109.41,292.13 L109.60,292.48 L109.83,293.00 L110.06,294.40 L110.27,294.64 L110.48,295.48 L110.68,295.41 L110.88,296.23 L111.08,297.49 L111.28,298.11 L111.48,298.88 L111.69,299.33 L111.90,299.93 L112.06,300.68 L112.22,301.57 L112.39,301.68 L112.55,302.56 L112.72,302.98 L112.89,304.16 L113.05,304.10 L113.22,305.48 L113.39,306.45 L113.56,306.23 L113.73,307.51 L113.90,308.27 L114.07,309.18 L114.23,309.60 L114.40,309.96 L114.58,310.83 L114.76,312.11 L114.94,312.77 L115.12,312.72 L115.30,313.41 L115.48,314.12 L115.66,314.78 L115.84,315.92 L116.01,316.33 L116.19,317.78 L116.37,318.29 L116.55,318.48 L116.72,319.61 L116.90,320.12 L117.07,321.02 L117.25,321.49 L117.42,322.18 L117.59,322.95 L117.76,323.90 L117.93,324.98 L118.09,325.57 L118.26,325.81 L118.43,327.21 L118.60,328.10 L118.77,328.72 L118.95,329.44 L119.12,329.34 L119.30,330.46 L119.51,330.82 L119.72,332.25 L119.93,332.36 L120.15,333.59 L120.36,333.81 L120.58,334.92 L120.80,335.19 L121.02,335.58 L121.24,336.58 L121.46,337.16 L121.68,338.42 L121.90,338.50 L122.12,339.39 L122.34,340.14 L122.56,341.23 L122.79,341.09 L123.01,342.29 L123.23,342.90 L123.46,343.83 L123.68,344.76 L123.91,344.79 L124.14,345.86 L124.37,346.36 L124.60,347.06 L124.85,347.29 L125.11,348.78 L125.36,349.68 L125.61,349.80 L125.87,350.50 L126.13,351.89 L126.39,351.69 L126.66,352.33 L126.93,352.95 L127.21,354.28 L127.50,354.76 L128.00,355.21 L128.56,356.06 L129.14,356.07 L129.71,357.22 L130.24,357.47 L130.68,357.92 L131.00,358.09" fill="none" stroke="#6ec6f2" stroke-width="1.70" stroke-linejoin="round" stroke-linecap="butt" stroke-dasharray="3,1.8"/>
<path d="M177.50,274.32 L177.94,274.28 L178.52,274.47 L179.21,274.63 L179.98,273.41 L180.79,273.00 L181.60,272.81 L182.39,273.27 L183.10,271.94 L183.76,272.53 L184.41,272.04 L185.05,270.82 L185.68,271.08 L186.31,270.55 L186.94,270.11 L187.57,270.67 L188.20,268.85 L188.84,268.36 L189.48,269.47 L190.11,268.24 L190.75,267.55 L191.39,267.40 L192.02,267.09 L192.66,267.68 L193.30,266.14 L193.94,265.80 L194.58,266.03 L195.21,265.62 L195.85,265.93 L196.49,265.40 L197.13,264.30 L197.76,263.73 L198.40,264.44 L199.13,264.34 L199.86,262.48 L200.59,263.29 L201.31,263.19 L202.04,262.56 L202.77,261.60 L203.50,262.27 L204.23,261.94 L204.96,260.88 L205.69,261.42 L206.41,260.58 L207.14,260.14 L207.87,260.47 L208.60,260.33 L209.33,260.31 L210.06,260.59 L210.79,260.79 L211.51,260.90 L212.24,260.85 L212.97,260.82 L213.70,260.46 L214.43,259.68 L215.17,259.48 L215.90,260.22 L216.64,260.13 L217.36,260.40 L218.09,259.55 L218.80,259.81 L219.50,261.07 L220.18,260.65 L220.86,260.91 L221.54,260.09 L222.22,260.76 L222.90,261.82 L223.60,261.74 L224.16,262.60 L224.73,261.67 L225.30,262.46 L225.88,263.43 L226.46,263.32 L227.04,264.36 L227.61,264.52 L228.16,264.38 L228.70,264.96 L229.09,266.85 L229.47,265.98 L229.83,266.62 L230.19,267.40 L230.55,268.57 L230.90,269.39 L231.25,269.39 L231.61,270.06 L231.97,271.18 L232.33,271.04 L232.71,271.88 L233.10,272.98 L233.40,273.57 L233.71,273.19 L234.04,273.91 L234.36,274.56 L234.70,276.13 L235.03,276.72 L235.37,277.82 L235.71,278.15 L236.04,277.99 L236.37,279.48 L236.70,280.50 L237.02,280.14 L237.33,280.27 L237.63,281.51 L237.92,282.01 L238.20,282.48 L238.48,282.95 L238.76,283.76 L239.02,285.62 L239.28,285.00 L239.53,286.58 L239.77,286.61 L240.00,287.26 L240.23,288.95 L240.46,288.79 L240.67,289.28 L240.89,290.38 L241.10,291.43 L241.30,291.82 L241.50,293.02 L241.70,292.94 L241.92,293.88 L242.13,294.90 L242.32,295.19 L242.51,296.29 L242.69,296.57 L242.87,296.72 L243.04,297.39 L243.21,299.15 L243.38,299.81 L243.56,300.87 L243.73,301.24 L243.91,301.87 L244.10,302.07 L244.23,303.77 L244.36,303.22 L244.50,304.35 L244.63,304.54 L244.76,305.59 L244.90,306.15 L245.03,307.02 L245.17,308.17 L245.30,308.60 L245.44,308.84 L245.57,310.42 L245.71,311.07 L245.85,311.95 L245.99,311.42 L246.13,313.09 L246.27,314.29 L246.41,314.02 L246.56,314.67 L246.70,316.40 L246.83,316.34 L246.95,317.06 L247.08,318.41 L247.21,318.40 L247.33,318.80 L247.46,319.53 L247.59,320.45 L247.72,321.73 L247.86,321.92 L247.99,323.28 L248.12,322.87 L248.25,323.89 L248.38,325.20 L248.52,325.68 L248.65,326.42 L248.79,327.82 L248.92,327.45 L249.06,327.98 L249.19,328.42 L249.33,329.80 L249.46,330.14 L249.60,331.06 L249.77,331.11 L249.95,331.89 L250.12,333.28 L250.28,334.65 L250.45,334.68 L250.62,336.41 L250.79,336.61 L250.96,337.06 L251.13,338.38 L251.31,338.21 L251.49,339.50 L251.67,340.58 L251.86,340.76 L252.06,341.08 L252.27,341.37 L252.48,342.78 L252.70,342.80 L252.98,343.86 L253.29,344.87 L253.60,346.25 L253.93,346.54 L254.26,347.00 L254.61,348.23 L254.96,348.03 L255.31,348.81 L255.65,349.91 L256.00,350.33 L256.34,350.40 L256.67,351.27 L256.99,352.49 L257.30,352.09 L257.76,353.61 L258.21,353.30 L258.64,355.44 L259.07,355.65 L259.49,355.66 L259.90,357.26 L260.30,357.45 L260.70,356.72 L261.10,357.40 L262.04,358.38 L262.99,359.48 L263.82,358.23 L264.40,358.18" fill="none" stroke="#05a6bf" stroke-width="1.50" stroke-linejoin="round" stroke-linecap="butt" stroke-dasharray="2.5,1.5"/>
<path d="M176.60,273.99 L177.04,273.96 L177.62,273.81 L178.31,274.21 L179.08,273.38 L179.89,273.28 L180.70,272.16 L181.49,272.27 L182.20,272.31 L182.86,271.57 L183.51,271.71 L184.15,271.26 L184.78,270.26 L185.41,269.44 L186.04,269.96 L186.67,268.82 L187.30,268.31 L187.94,268.81 L188.58,268.57 L189.21,268.20 L189.85,267.98 L190.49,266.71 L191.13,266.21 L191.76,265.90 L192.40,266.57 L193.04,265.18 L193.68,264.89 L194.31,264.37 L194.95,264.06 L195.59,263.71 L196.22,263.75 L196.86,263.20 L197.50,263.07 L198.23,263.48 L198.96,262.23 L199.69,262.69 L200.41,262.29 L201.14,261.80 L201.87,261.54 L202.60,261.52 L203.33,261.08 L204.06,260.45 L204.79,260.39 L205.51,260.12 L206.24,260.15 L206.97,260.72 L207.70,259.91 L208.43,259.36 L209.16,259.73 L209.89,260.03 L210.61,259.50 L211.34,259.73 L212.07,258.94 L212.80,258.87 L213.53,259.58 L214.27,258.85 L215.00,259.18 L215.74,259.32 L216.46,259.15 L217.19,259.05 L217.90,259.11 L218.60,260.34 L219.28,260.12 L219.96,260.54 L220.64,260.13 L221.32,260.86 L222.00,261.00 L222.70,261.04 L223.26,261.24 L223.83,261.57 L224.40,261.61 L224.98,262.20 L225.56,263.07 L226.14,262.93 L226.71,264.24 L227.26,264.40 L227.80,265.13 L228.19,265.87 L228.57,266.16 L228.93,266.08 L229.29,266.76 L229.65,267.03 L230.00,267.65 L230.35,269.37 L230.71,269.57 L231.07,270.68 L231.43,271.13 L231.81,271.26 L232.20,272.76 L232.50,273.26 L232.81,273.28 L233.14,273.43 L233.46,274.32 L233.80,274.77 L234.13,275.65 L234.47,275.96 L234.81,277.37 L235.14,278.36 L235.47,278.10 L235.80,279.46 L236.12,279.89 L236.43,280.43 L236.73,281.60 L237.02,281.61 L237.30,282.79 L237.58,282.52 L237.86,284.31 L238.12,284.06 L238.38,284.52 L238.63,286.25 L238.87,286.74 L239.10,287.36 L239.33,288.15 L239.56,288.36 L239.77,288.72 L239.99,289.63 L240.20,291.06 L240.40,291.76 L240.60,291.52 L240.80,292.43 L241.02,293.18 L241.23,294.44 L241.42,294.06 L241.61,295.74 L241.79,295.73 L241.97,296.77 L242.14,296.95 L242.31,297.60 L242.48,299.28 L242.66,299.56 L242.83,300.90 L243.01,301.58 L243.20,302.30 L243.33,302.10 L243.46,303.34 L243.60,304.46 L243.73,304.52 L243.86,304.66 L244.00,305.48 L244.13,307.12 L244.27,307.81 L244.40,307.63 L244.54,308.43 L244.67,309.63 L244.81,310.11 L244.95,310.45 L245.09,312.15 L245.23,312.45 L245.37,312.89 L245.51,313.23 L245.66,314.56 L245.80,315.60 L245.93,315.57 L246.05,316.13 L246.18,317.57 L246.31,318.49 L246.43,318.54 L246.56,319.36 L246.69,320.26 L246.82,320.84 L246.96,321.08 L247.09,321.98 L247.22,322.62 L247.35,323.32 L247.48,323.91 L247.62,324.98 L247.75,325.48 L247.89,326.94 L248.02,327.00 L248.16,328.45 L248.29,328.94 L248.43,328.95 L248.56,329.45 L248.70,330.59 L248.87,331.27 L249.05,332.13 L249.22,332.42 L249.38,333.68 L249.55,334.71 L249.72,335.08 L249.89,335.59 L250.06,337.12 L250.23,337.09 L250.41,338.63 L250.59,338.96 L250.77,338.83 L250.96,340.04 L251.16,340.34 L251.37,341.76 L251.58,341.97 L251.80,342.20 L252.08,344.00 L252.39,344.56 L252.70,345.07 L253.03,345.74 L253.36,345.86 L253.71,347.64 L254.06,347.49 L254.41,348.42 L254.75,349.01 L255.10,349.61 L255.44,349.66 L255.77,351.29 L256.09,351.36 L256.40,351.77 L256.86,353.12 L257.31,353.85 L257.74,354.37 L258.17,355.24 L258.59,355.17 L259.00,355.41 L259.40,356.20 L259.80,356.94 L260.20,357.54 L261.14,358.08 L262.09,358.24 L262.92,358.32 L263.50,358.50" fill="none" stroke="#05a6bf" stroke-width="2.10" stroke-linejoin="round" stroke-linecap="round"/>
<path d="M312.20,277.29 L312.57,276.79 L313.05,276.36 L313.63,277.35 L314.27,276.34 L314.96,276.11 L315.68,275.43 L316.40,274.70 L317.10,274.92 L317.73,274.29 L318.38,274.31 L319.05,273.74 L319.74,273.70 L320.44,272.62 L321.14,271.75 L321.83,271.38 L322.52,272.06 L323.20,270.70 L323.86,271.22 L324.53,270.80 L325.19,269.42 L325.84,270.36 L326.50,268.65 L327.15,269.79 L327.80,269.39 L328.45,267.92 L329.10,268.51 L329.75,268.19 L330.40,266.78 L331.04,267.45 L331.69,266.16 L332.33,267.28 L332.98,266.58 L333.62,266.81 L334.26,264.87 L334.90,265.07 L335.62,265.32 L336.33,265.02 L337.03,263.98 L337.74,264.99 L338.44,264.66 L339.16,263.43 L339.87,262.90 L340.60,263.60 L341.34,262.90 L342.10,263.12 L342.87,262.59 L343.64,262.19 L344.41,261.30 L345.16,261.30 L345.90,261.70 L346.60,262.01 L347.38,261.29 L348.13,261.70 L348.87,261.18 L349.58,261.67 L350.27,261.15 L350.95,260.45 L351.60,260.05 L352.47,259.84 L353.30,259.75 L354.08,261.22 L354.85,261.28 L355.60,261.15 L356.34,260.14 L357.06,261.32 L357.75,260.59 L358.43,262.25 L359.10,262.18 L359.74,262.76 L360.34,262.96 L360.94,263.14 L361.55,264.49 L362.20,265.33 L362.68,264.52 L363.18,265.37 L363.69,266.43 L364.20,266.89 L364.73,267.02 L365.26,267.76 L365.80,269.44 L366.15,268.71 L366.51,269.15 L366.87,270.58 L367.24,270.45 L367.61,272.19 L367.99,271.80 L368.36,273.54 L368.73,273.23 L369.09,274.82 L369.45,275.27 L369.80,275.92 L370.12,275.62 L370.43,276.19 L370.74,276.62 L371.05,277.57 L371.35,279.13 L371.66,278.74 L371.96,279.75 L372.25,281.05 L372.54,281.01 L372.83,282.02 L373.12,282.53 L373.40,284.02 L373.68,283.69 L373.95,285.95 L374.22,285.90 L374.49,286.78 L374.75,287.16 L375.01,287.73 L375.26,289.25 L375.51,289.78 L375.76,290.33 L376.01,289.58 L376.26,291.27 L376.50,292.60 L376.74,292.72 L376.97,293.15 L377.20,294.03 L377.42,293.81 L377.64,295.43 L377.86,296.17 L378.08,295.56 L378.30,297.04 L378.52,297.93 L378.74,298.28 L378.97,299.71 L379.20,301.06 L379.34,301.61 L379.48,301.15 L379.62,301.50 L379.77,303.41 L379.91,303.65 L380.05,304.73 L380.20,305.50 L380.34,305.16 L380.49,306.45 L380.63,306.68 L380.78,308.32 L380.92,308.88 L381.07,308.83 L381.22,310.06 L381.36,311.00 L381.51,311.11 L381.66,311.78 L381.81,313.06 L381.95,313.09 L382.10,314.59 L382.23,316.07 L382.37,316.54 L382.50,315.84 L382.64,317.91 L382.77,318.41 L382.91,319.09 L383.04,318.57 L383.18,320.59 L383.32,320.27 L383.45,322.07 L383.59,321.91 L383.72,322.69 L383.86,323.05 L384.00,325.00 L384.13,324.54 L384.27,326.40 L384.41,326.45 L384.55,326.48 L384.69,328.07 L384.82,328.52 L384.96,328.29 L385.10,330.38 L385.25,330.12 L385.40,330.40 L385.55,332.48 L385.70,333.14 L385.85,333.27 L386.00,333.65 L386.15,335.00 L386.30,335.84 L386.45,336.75 L386.60,337.11 L386.75,337.96 L386.90,338.93 L387.06,338.67 L387.22,339.33 L387.37,340.53 L387.53,341.67 L387.70,342.38 L387.86,343.08 L388.03,342.92 L388.20,343.98 L388.47,343.72 L388.75,345.03 L389.03,345.21 L389.32,347.31 L389.61,348.30 L389.91,348.37 L390.21,349.15 L390.51,349.07 L390.81,350.41 L391.11,349.69 L391.41,350.74 L391.71,351.23 L392.00,352.66 L392.48,352.18 L392.96,352.87 L393.45,353.38 L393.93,355.32 L394.41,354.90 L394.89,356.43 L395.35,355.79 L395.80,357.11 L396.74,356.49 L397.69,358.06 L398.52,358.33 L399.10,358.28" fill="none" stroke="#0a78c4" stroke-width="1.40" stroke-linejoin="round" stroke-linecap="butt" stroke-dasharray="2.5,1.5"/>
<path d="M311.60,278.37 L311.97,277.40 L312.45,277.40 L313.03,276.97 L313.67,277.18 L314.36,276.68 L315.08,276.50 L315.80,275.11 L316.50,275.11 L317.13,274.29 L317.78,274.16 L318.45,274.15 L319.14,273.22 L319.84,273.07 L320.54,273.25 L321.23,272.77 L321.92,272.02 L322.60,272.11 L323.26,272.01 L323.93,270.69 L324.59,271.28 L325.24,270.79 L325.90,270.00 L326.55,269.42 L327.20,270.03 L327.85,268.94 L328.50,268.31 L329.15,267.99 L329.80,268.57 L330.44,267.97 L331.09,267.90 L331.73,267.51 L332.38,266.98 L333.02,267.22 L333.66,266.23 L334.30,266.16 L335.02,266.20 L335.73,265.67 L336.43,265.69 L337.14,265.08 L337.84,264.98 L338.56,263.94 L339.27,263.91 L340.00,263.75 L340.74,263.26 L341.50,263.21 L342.27,262.82 L343.04,262.81 L343.81,263.02 L344.56,262.50 L345.30,262.32 L346.00,261.95 L346.78,261.84 L347.53,262.48 L348.27,261.99 L348.98,261.81 L349.67,261.17 L350.35,261.75 L351.00,261.00 L351.87,261.18 L352.70,261.87 L353.48,261.44 L354.25,261.38 L355.00,261.62 L355.74,261.95 L356.46,262.06 L357.15,261.64 L357.83,261.69 L358.50,262.38 L359.14,262.73 L359.74,263.12 L360.34,264.52 L360.95,265.01 L361.60,264.98 L362.08,265.87 L362.58,266.06 L363.09,267.20 L363.60,267.22 L364.13,267.60 L364.66,268.25 L365.20,269.37 L365.55,269.53 L365.91,270.47 L366.27,271.42 L366.64,271.43 L367.01,271.84 L367.39,273.42 L367.76,273.49 L368.13,273.66 L368.49,274.29 L368.85,275.04 L369.20,276.35 L369.52,277.19 L369.83,277.40 L370.14,277.64 L370.45,278.70 L370.75,280.12 L371.06,280.26 L371.36,281.49 L371.65,282.06 L371.94,281.74 L372.23,283.29 L372.52,283.93 L372.80,284.44 L373.08,284.80 L373.35,285.92 L373.62,285.96 L373.89,287.01 L374.15,287.71 L374.41,288.98 L374.66,289.55 L374.91,289.49 L375.16,290.45 L375.41,290.74 L375.66,292.31 L375.90,292.94 L376.14,292.93 L376.37,293.99 L376.60,294.59 L376.82,294.67 L377.04,296.03 L377.26,296.41 L377.48,297.36 L377.70,297.76 L377.92,297.86 L378.14,299.03 L378.37,299.51 L378.60,301.51 L378.74,302.04 L378.88,302.59 L379.02,302.59 L379.17,302.94 L379.31,304.60 L379.45,305.37 L379.60,305.04 L379.74,306.24 L379.89,306.47 L380.03,308.04 L380.18,308.80 L380.32,308.79 L380.47,309.97 L380.62,310.82 L380.76,311.24 L380.91,312.74 L381.06,312.96 L381.21,313.46 L381.35,314.60 L381.50,315.58 L381.63,315.62 L381.77,316.43 L381.90,317.93 L382.04,318.21 L382.17,318.65 L382.31,319.44 L382.44,319.66 L382.58,320.49 L382.72,321.33 L382.85,322.33 L382.99,322.61 L383.12,323.30 L383.26,323.82 L383.40,325.20 L383.53,325.41 L383.67,326.92 L383.81,327.55 L383.95,327.29 L384.09,328.18 L384.22,329.37 L384.36,329.49 L384.50,330.06 L384.65,331.75 L384.80,332.05 L384.95,332.66 L385.10,333.78 L385.25,334.54 L385.40,334.54 L385.55,335.16 L385.70,336.30 L385.85,337.01 L386.00,337.79 L386.15,338.81 L386.30,339.44 L386.46,340.51 L386.62,340.12 L386.77,341.15 L386.93,341.72 L387.10,342.97 L387.26,342.84 L387.43,343.36 L387.60,344.24 L387.87,345.04 L388.15,345.66 L388.43,346.39 L388.72,347.92 L389.01,348.03 L389.31,349.20 L389.61,349.45 L389.91,349.46 L390.21,351.18 L390.51,351.54 L390.81,352.24 L391.11,352.71 L391.40,353.12 L391.88,353.07 L392.36,354.16 L392.85,354.48 L393.33,355.29 L393.81,355.40 L394.29,356.26 L394.75,357.41 L395.20,356.92 L396.14,358.08 L397.09,357.98 L397.92,358.09 L398.50,358.85" fill="none" stroke="#0a78c4" stroke-width="2.10" stroke-linejoin="round" stroke-linecap="round"/>
<path d="M444.50,279.09 L444.89,279.32 L445.40,278.54 L446.00,279.31 L446.68,278.04 L447.40,278.22 L448.13,278.47 L448.86,277.27 L449.56,277.85 L450.20,277.17 L450.87,276.55 L451.52,276.37 L452.16,275.99 L452.79,275.31 L453.41,276.02 L454.04,274.77 L454.67,275.39 L455.30,274.86 L455.94,273.23 L456.57,273.29 L457.21,273.33 L457.85,273.55 L458.49,272.22 L459.13,272.61 L459.76,271.90 L460.40,272.26 L461.04,272.17 L461.67,271.59 L462.31,270.36 L462.95,270.95 L463.59,270.12 L464.22,270.45 L464.86,269.56 L465.50,269.95 L466.23,269.74 L466.96,269.15 L467.69,268.82 L468.41,268.49 L469.14,267.80 L469.87,266.81 L470.60,267.78 L471.33,266.61 L472.06,265.57 L472.79,265.91 L473.51,265.56 L474.24,264.89 L474.97,265.77 L475.70,264.08 L476.34,265.04 L476.97,264.14 L477.61,263.20 L478.25,263.14 L478.89,262.96 L479.52,262.14 L480.16,262.92 L480.80,262.54 L481.53,262.91 L482.26,262.54 L482.99,262.40 L483.71,262.70 L484.44,262.62 L485.17,262.22 L485.90,262.16 L486.62,262.30 L487.33,262.98 L488.03,263.41 L488.74,263.57 L489.47,263.93 L490.22,263.02 L491.00,264.07 L491.58,263.86 L492.19,265.00 L492.82,265.35 L493.47,265.71 L494.12,266.59 L494.76,265.99 L495.39,267.24 L496.00,267.47 L496.57,267.35 L497.10,269.07 L497.59,268.11 L498.05,269.32 L498.48,270.01 L498.89,270.71 L499.29,271.95 L499.67,271.88 L500.03,273.04 L500.39,272.70 L500.75,273.60 L501.10,273.64 L501.53,275.11 L501.95,275.41 L502.34,276.63 L502.73,276.19 L503.10,277.39 L503.47,278.84 L503.83,278.00 L504.20,279.76 L504.50,280.41 L504.82,281.19 L505.15,281.66 L505.48,282.33 L505.79,283.82 L506.10,283.46 L506.38,284.82 L506.62,285.37 L506.83,285.97 L507.00,285.96" fill="none" stroke="#00007c" stroke-width="1.50" stroke-linejoin="round" stroke-linecap="butt" stroke-dasharray="1.8,2.2"/>
<path d="M443.60,283.57 L443.96,282.25 L444.42,282.77 L444.96,282.14 L445.58,282.31 L446.24,281.26 L446.93,281.45 L447.63,280.11 L448.33,280.69 L449.00,279.59 L449.63,278.95 L450.20,278.82 L450.91,278.76 L451.58,277.69 L452.22,277.78 L452.84,277.02 L453.45,276.79 L454.06,276.61 L454.67,276.39 L455.30,276.13 L455.94,276.41 L456.57,275.66 L457.21,275.87 L457.85,275.60 L458.49,275.28 L459.13,275.03 L459.76,274.28 L460.40,274.11 L461.13,274.03 L461.86,273.31 L462.59,272.52 L463.31,272.68 L464.04,272.40 L464.77,271.69 L465.50,271.31 L466.23,271.16 L466.96,271.52 L467.69,271.41 L468.41,270.99 L469.14,270.48 L469.87,269.77 L470.60,269.51 L471.33,270.05 L472.06,269.65 L472.79,269.31 L473.51,268.73 L474.24,268.44 L474.97,268.30 L475.70,268.05 L476.43,268.46 L477.16,267.96 L477.89,268.13 L478.61,267.86 L479.34,267.90 L480.07,268.06 L480.80,268.04 L481.53,267.23 L482.26,268.16 L482.99,268.01 L483.71,267.96 L484.44,267.54 L485.17,268.18 L485.90,268.07 L486.63,267.47 L487.36,268.12 L488.09,268.44 L488.81,268.48 L489.54,268.83 L490.27,268.59 L491.00,269.01 L491.64,268.52 L492.27,269.47 L492.91,269.10 L493.55,270.08 L494.19,270.61 L494.82,270.32 L495.46,270.35 L496.10,270.75 L496.61,271.70 L497.14,271.68 L497.66,272.82 L498.19,273.13 L498.72,273.48 L499.24,274.19 L499.75,274.10 L500.25,275.01 L500.73,275.08 L501.20,276.26 L501.60,277.09 L501.99,276.87 L502.36,278.07 L502.73,279.01 L503.08,278.80 L503.43,279.27 L503.78,279.95 L504.12,281.30 L504.48,281.07 L504.83,282.60 L505.20,282.71 L505.49,283.89 L505.79,284.64 L506.09,285.19 L506.39,285.02 L506.70,286.07 L507.00,286.43 L507.31,287.75 L507.61,287.73 L507.91,288.27 L508.22,289.27 L508.52,289.62 L508.81,290.55 L509.11,291.92 L509.40,292.29 L509.60,292.72 L509.80,294.24 L510.01,294.07 L510.21,295.36 L510.41,295.90 L510.61,296.43 L510.81,297.24 L511.01,297.86 L511.20,298.89 L511.40,299.44 L511.60,299.66 L511.79,300.86 L511.98,301.41 L512.18,302.65 L512.37,302.42 L512.56,303.56 L512.74,304.91 L512.93,304.55 L513.12,306.06 L513.30,306.98 L513.48,307.34 L513.66,307.39 L513.84,308.97 L514.02,309.08 L514.19,310.10 L514.36,311.19 L514.53,311.31 L514.71,311.95 L514.88,312.53 L515.04,313.52 L515.21,313.96 L515.38,315.39 L515.54,316.27 L515.71,316.05 L515.88,317.32 L516.04,318.34 L516.21,319.01 L516.37,319.08 L516.54,320.07 L516.70,320.92 L516.88,321.45 L517.06,322.74 L517.24,323.34 L517.41,324.10 L517.59,323.78 L517.76,324.34 L517.93,325.70 L518.10,326.35 L518.28,326.64 L518.45,327.28 L518.62,328.59 L518.80,329.26 L518.97,328.98 L519.15,329.77 L519.33,331.15 L519.52,331.46 L519.71,331.81 L519.90,333.44 L520.10,333.38 L520.29,333.76 L520.50,334.85 L520.70,335.53 L520.91,336.51 L521.11,337.35 L521.32,337.23 L521.54,338.39 L521.75,339.60 L521.96,339.78 L522.18,340.95 L522.40,341.65 L522.61,342.21 L522.83,342.69 L523.05,342.70 L523.27,344.40 L523.48,344.23 L523.70,344.87 L523.96,345.87 L524.23,346.68 L524.50,347.75 L524.77,348.26 L525.04,349.50 L525.32,350.11 L525.59,350.71 L525.87,351.01 L526.14,352.16 L526.41,352.69 L526.68,353.65 L526.94,353.68 L527.20,354.87 L527.45,355.30 L527.70,355.11 L528.46,357.07 L529.23,357.17 L529.95,357.49 L530.56,357.59 L531.00,357.86" fill="none" stroke="#00007c" stroke-width="2.10" stroke-linejoin="round" stroke-linecap="round"/>
<line x1="50.30" y1="252.30" x2="537.00" y2="252.30" stroke="#000" stroke-width="2.30"/>
<path d="M561.2,252.3 L535.5,242.9 L542.5,252.3 L535.5,261.6 Z" fill="#000"/>
<text y="252.4" font-size="14.2" font-weight="bold" fill="#000"><tspan x="560.60">[</tspan><tspan x="589.80">]</tspan></text>
<text transform="translate(565.20,252.20) scale(0.930,1)" font-size="13.9" font-weight="bold" fill="#000">Na</text>
<text x="584.80" y="244.5" font-size="8.0" font-weight="bold" fill="#000">+</text>
<text x="62.7" y="248.2" font-size="16.3" text-anchor="start" font-weight="bold" fill="#6ec6f2" textLength="38.4" lengthAdjust="spacingAndGlyphs">0.1 M</text>
<text x="195.8" y="248.2" font-size="16.3" text-anchor="start" font-weight="bold" fill="#05a6bf" textLength="41.4" lengthAdjust="spacingAndGlyphs">0.2 M</text>
<text x="336.9" y="248.2" font-size="16.3" text-anchor="start" font-weight="bold" fill="#0a78c4" textLength="41.6" lengthAdjust="spacingAndGlyphs">0.3 M</text>
<text x="463.4" y="248.2" font-size="16.3" text-anchor="start" font-weight="bold" fill="#00007c" textLength="41.8" lengthAdjust="spacingAndGlyphs">0.5 M</text>
<text transform="translate(24.0,334.3) rotate(-90)" font-size="19.5" fill="#000" textLength="88.2" lengthAdjust="spacingAndGlyphs">FE(CO) %</text>
<line x1="39.70" y1="382.70" x2="72.30" y2="382.70" stroke="#6ec6f2" stroke-width="2.00" stroke-dasharray="3.2,2.2" stroke-linecap="butt"/>
<text x="75.6" y="387.8" font-size="13.4" text-anchor="start" font-weight="bold" fill="#000" textLength="56.8" lengthAdjust="spacingAndGlyphs">400 RPM</text>
<line x1="140.20" y1="382.90" x2="171.80" y2="382.90" stroke="#6ec6f2" stroke-width="1.80"/>
<text x="176.3" y="387.6" font-size="13.2" text-anchor="start" font-weight="bold" fill="#000" textLength="63.3" lengthAdjust="spacingAndGlyphs">2500 RPM</text>
<text x="251.3" y="387.8" font-size="18.0" text-anchor="start" fill="#000" textLength="119.6" lengthAdjust="spacingAndGlyphs">E (V <tspan font-style="italic">vs.</tspan> RHE)</text>
<text x="543.0" y="349.8" font-size="21.8" text-anchor="start" font-weight="bold" fill="#000">D</text>
</svg>
</body></html>
